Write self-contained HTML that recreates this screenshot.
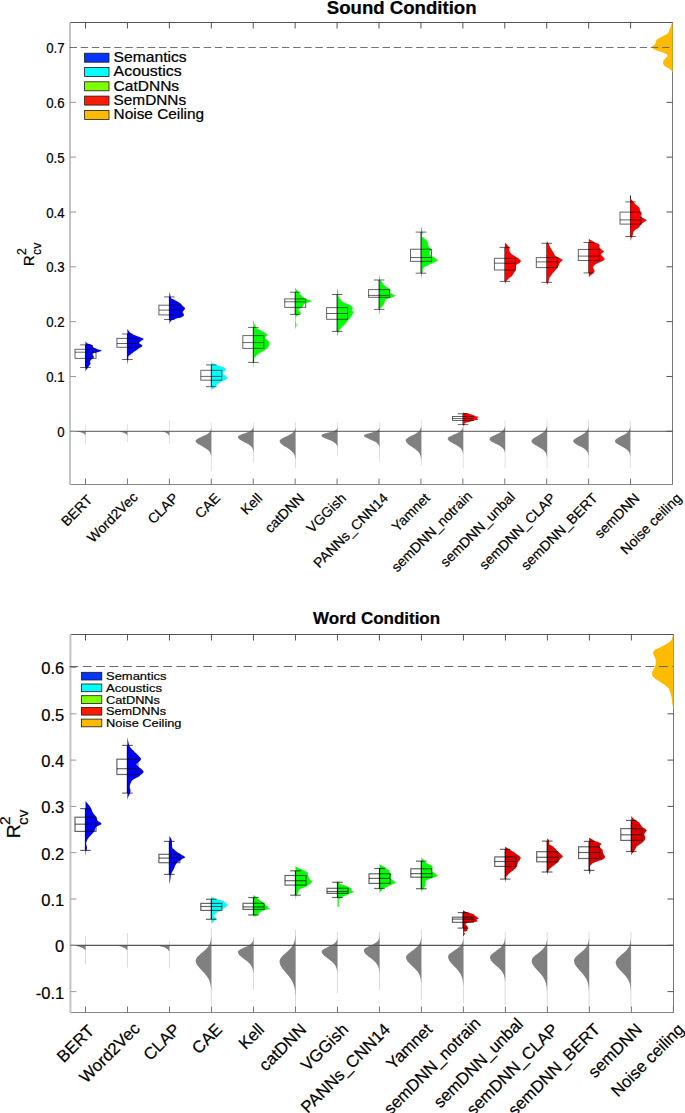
<!DOCTYPE html>
<html><head><meta charset="utf-8"><style>
html,body{margin:0;padding:0;background:#fff;}
svg{display:block;}
text{fill:#000;stroke:#000;stroke-width:0.2px;}
</style></head><body>
<svg width="685" height="1113" viewBox="0 0 685 1113" font-family='"Liberation Sans", sans-serif'>
<rect width="100%" height="100%" fill="#fff"/>
<text transform="translate(326.8 14.3) scale(1 1.12)" font-size="17" font-weight="bold" textLength="149.8" lengthAdjust="spacingAndGlyphs">Sound Condition</text>
<line x1="70" y1="22.5" x2="672.5" y2="22.5" stroke="#555" stroke-width="1"/>
<line x1="70" y1="484.5" x2="672.5" y2="484.5" stroke="#888" stroke-width="1"/>
<line x1="672.5" y1="22.5" x2="672.5" y2="484.5" stroke="#777" stroke-width="1"/>
<line x1="70" y1="22.5" x2="70" y2="484.5" stroke="#c4c4c4" stroke-width="2"/>
<line x1="85.5" y1="424.4" x2="85.5" y2="443.7" stroke="#d4d4d4" stroke-width="0.7"/>
<path d="M77.5,431.3 C77.87,431.4 79.03,431.7 79.74,431.9 C80.45,432.1 81.14,432.27 81.74,432.5 C82.34,432.73 82.89,433.03 83.34,433.3 C83.79,433.57 84.17,433.83 84.46,434.1 C84.75,434.37 84.96,434.7 85.1,434.9 C85.24,435.1 85.27,435.23 85.3,435.3 L85.5,435.3 L85.5,431.3 Z" fill="#808080"/>
<line x1="127.4" y1="424.2" x2="127.4" y2="442" stroke="#d4d4d4" stroke-width="0.7"/>
<path d="M118.4,431.3 C118.82,431.4 120.12,431.7 120.92,431.9 C121.72,432.1 122.5,432.27 123.17,432.5 C123.84,432.73 124.46,433.03 124.97,433.3 C125.48,433.57 125.9,433.83 126.23,434.1 C126.56,434.37 126.79,434.7 126.95,434.9 C127.11,435.1 127.16,435.23 127.2,435.3 L127.4,435.3 L127.4,431.3 Z" fill="#808080"/>
<line x1="169.4" y1="420.3" x2="169.4" y2="444.3" stroke="#d4d4d4" stroke-width="0.7"/>
<path d="M161.9,431.3 C162.25,431.41 163.34,431.75 164,431.98 C164.66,432.2 165.31,432.39 165.88,432.65 C166.44,432.91 166.95,433.25 167.38,433.55 C167.8,433.85 168.15,434.15 168.43,434.45 C168.7,434.75 168.9,435.12 169.03,435.35 C169.15,435.58 169.17,435.73 169.2,435.8 L169.4,435.8 L169.4,431.3 Z" fill="#808080"/>
<line x1="211.3" y1="422.3" x2="211.3" y2="471.3" stroke="#d4d4d4" stroke-width="0.7"/>
<path d="M211.13,428.3 C211.1,428.44 211.05,428.86 210.99,429.14 C210.93,429.42 210.86,429.7 210.77,429.98 C210.67,430.26 210.56,430.54 210.42,430.82 C210.28,431.1 210.11,431.38 209.9,431.66 C209.7,431.94 209.46,432.22 209.18,432.5 C208.89,432.78 208.57,433.06 208.19,433.34 C207.82,433.62 207.4,433.9 206.93,434.18 C206.47,434.46 205.95,434.74 205.41,435.02 C204.86,435.3 204.26,435.58 203.66,435.86 C203.05,436.14 202.4,436.42 201.78,436.7 C201.15,436.98 200.5,437.26 199.9,437.54 C199.3,437.82 198.7,438.1 198.19,438.38 C197.67,438.66 197.19,438.94 196.81,439.22 C196.43,439.5 196.11,439.78 195.91,440.06 C195.71,440.34 195.6,440.59 195.6,440.9 C195.6,441.21 195.71,441.59 195.91,441.94 C196.11,442.29 196.43,442.63 196.81,442.98 C197.19,443.33 197.67,443.67 198.19,444.02 C198.7,444.37 199.3,444.71 199.9,445.06 C200.5,445.41 201.15,445.75 201.78,446.1 C202.4,446.45 203.05,446.79 203.66,447.14 C204.26,447.49 204.86,447.83 205.41,448.18 C205.95,448.53 206.47,448.87 206.93,449.22 C207.4,449.57 207.82,449.91 208.19,450.26 C208.57,450.61 208.89,450.95 209.18,451.3 C209.46,451.65 209.7,451.99 209.9,452.34 C210.11,452.69 210.28,453.03 210.42,453.38 C210.56,453.73 210.67,454.07 210.77,454.42 C210.86,454.77 210.93,455.11 210.99,455.46 C211.05,455.81 211.1,456.33 211.13,456.5 L211.3,456.5 L211.3,428.3 Z" fill="#808080"/>
<line x1="253.5" y1="422.3" x2="253.5" y2="462" stroke="#d4d4d4" stroke-width="0.7"/>
<path d="M253.33,426.8 C253.3,426.91 253.25,427.25 253.19,427.48 C253.13,427.71 253.06,427.93 252.97,428.16 C252.87,428.39 252.77,428.61 252.62,428.84 C252.48,429.07 252.32,429.29 252.11,429.52 C251.91,429.75 251.67,429.97 251.39,430.2 C251.11,430.43 250.78,430.65 250.41,430.88 C250.04,431.11 249.62,431.33 249.16,431.56 C248.7,431.79 248.19,432.01 247.65,432.24 C247.1,432.47 246.51,432.69 245.91,432.92 C245.31,433.15 244.66,433.37 244.04,433.6 C243.42,433.83 242.77,434.05 242.17,434.28 C241.58,434.51 240.98,434.73 240.47,434.96 C239.96,435.19 239.48,435.41 239.1,435.64 C238.72,435.87 238.41,436.09 238.21,436.32 C238.01,436.55 237.9,436.72 237.9,437 C237.9,437.28 238.01,437.65 238.21,437.98 C238.41,438.31 238.72,438.63 239.1,438.96 C239.48,439.29 239.96,439.61 240.47,439.94 C240.98,440.27 241.58,440.59 242.17,440.92 C242.77,441.25 243.42,441.57 244.04,441.9 C244.66,442.23 245.31,442.55 245.91,442.88 C246.51,443.21 247.1,443.53 247.65,443.86 C248.19,444.19 248.7,444.51 249.16,444.84 C249.62,445.17 250.04,445.49 250.41,445.82 C250.78,446.15 251.11,446.47 251.39,446.8 C251.67,447.13 251.91,447.45 252.11,447.78 C252.32,448.11 252.48,448.43 252.62,448.76 C252.77,449.09 252.87,449.41 252.97,449.74 C253.06,450.07 253.13,450.39 253.19,450.72 C253.25,451.05 253.3,451.54 253.33,451.7 L253.5,451.7 L253.5,426.8 Z" fill="#808080"/>
<line x1="295.5" y1="422.3" x2="295.5" y2="468" stroke="#d4d4d4" stroke-width="0.7"/>
<path d="M295.32,427.6 C295.3,427.75 295.25,428.2 295.18,428.5 C295.12,428.8 295.05,429.1 294.96,429.4 C294.86,429.7 294.75,430 294.61,430.3 C294.46,430.6 294.3,430.9 294.09,431.2 C293.88,431.5 293.64,431.8 293.35,432.1 C293.06,432.4 292.73,432.7 292.35,433 C291.98,433.3 291.55,433.6 291.08,433.9 C290.61,434.2 290.09,434.5 289.53,434.8 C288.98,435.1 288.37,435.4 287.76,435.7 C287.15,436 286.49,436.3 285.86,436.6 C285.22,436.9 284.56,437.2 283.95,437.5 C283.35,437.8 282.74,438.1 282.22,438.4 C281.7,438.7 281.21,439 280.82,439.3 C280.44,439.6 280.12,439.9 279.91,440.2 C279.71,440.5 279.6,440.75 279.6,441.1 C279.6,441.45 279.71,441.9 279.91,442.3 C280.12,442.7 280.44,443.1 280.82,443.5 C281.21,443.9 281.7,444.3 282.22,444.7 C282.74,445.1 283.35,445.5 283.95,445.9 C284.56,446.3 285.22,446.7 285.86,447.1 C286.49,447.5 287.15,447.9 287.76,448.3 C288.37,448.7 288.98,449.1 289.53,449.5 C290.09,449.9 290.61,450.3 291.08,450.7 C291.55,451.1 291.98,451.5 292.35,451.9 C292.73,452.3 293.06,452.7 293.35,453.1 C293.64,453.5 293.88,453.9 294.09,454.3 C294.3,454.7 294.46,455.1 294.61,455.5 C294.75,455.9 294.86,456.3 294.96,456.7 C295.05,457.1 295.12,457.5 295.18,457.9 C295.25,458.3 295.3,458.9 295.32,459.1 L295.5,459.1 L295.5,427.6 Z" fill="#808080"/>
<line x1="337.5" y1="422.3" x2="337.5" y2="456" stroke="#d4d4d4" stroke-width="0.7"/>
<path d="M337.32,427.6 C337.3,427.69 337.24,427.95 337.18,428.12 C337.12,428.29 337.05,428.47 336.95,428.64 C336.85,428.81 336.74,428.99 336.6,429.16 C336.45,429.33 336.28,429.51 336.07,429.68 C335.86,429.85 335.61,430.03 335.32,430.2 C335.03,430.37 334.7,430.55 334.31,430.72 C333.93,430.89 333.5,431.07 333.02,431.24 C332.55,431.41 332.02,431.59 331.46,431.76 C330.9,431.93 330.28,432.11 329.66,432.28 C329.04,432.45 328.38,432.63 327.73,432.8 C327.09,432.97 326.42,433.15 325.81,433.32 C325.2,433.49 324.58,433.67 324.05,433.84 C323.52,434.01 323.03,434.19 322.64,434.36 C322.25,434.53 321.93,434.71 321.72,434.88 C321.51,435.05 321.4,435.18 321.4,435.4 C321.4,435.62 321.51,435.92 321.72,436.18 C321.93,436.44 322.25,436.7 322.64,436.96 C323.03,437.22 323.52,437.48 324.05,437.74 C324.58,438 325.2,438.26 325.81,438.52 C326.42,438.78 327.09,439.04 327.73,439.3 C328.38,439.56 329.04,439.82 329.66,440.08 C330.28,440.34 330.9,440.6 331.46,440.86 C332.02,441.12 332.55,441.38 333.02,441.64 C333.5,441.9 333.93,442.16 334.31,442.42 C334.7,442.68 335.03,442.94 335.32,443.2 C335.61,443.46 335.86,443.72 336.07,443.98 C336.28,444.24 336.45,444.5 336.6,444.76 C336.74,445.02 336.85,445.28 336.95,445.54 C337.05,445.8 337.12,446.06 337.18,446.32 C337.24,446.58 337.3,446.97 337.32,447.1 L337.5,447.1 L337.5,427.6 Z" fill="#808080"/>
<line x1="379.5" y1="422.3" x2="379.5" y2="462" stroke="#d4d4d4" stroke-width="0.7"/>
<path d="M379.33,427.9 C379.31,427.98 379.25,428.23 379.19,428.4 C379.13,428.57 379.07,428.73 378.97,428.9 C378.88,429.07 378.77,429.23 378.63,429.4 C378.49,429.57 378.33,429.73 378.12,429.9 C377.92,430.07 377.68,430.23 377.4,430.4 C377.12,430.57 376.8,430.73 376.43,430.9 C376.06,431.07 375.65,431.23 375.19,431.4 C374.73,431.57 374.22,431.73 373.68,431.9 C373.14,432.07 372.55,432.23 371.96,432.4 C371.36,432.57 370.72,432.73 370.1,432.9 C369.48,433.07 368.84,433.23 368.24,433.4 C367.65,433.57 367.06,433.73 366.55,433.9 C366.04,434.07 365.57,434.23 365.19,434.4 C364.82,434.57 364.51,434.73 364.31,434.9 C364.11,435.07 364,435.18 364,435.4 C364,435.62 364.11,435.93 364.31,436.2 C364.51,436.47 364.82,436.73 365.19,437 C365.57,437.27 366.04,437.53 366.55,437.8 C367.06,438.07 367.65,438.33 368.24,438.6 C368.84,438.87 369.48,439.13 370.1,439.4 C370.72,439.67 371.36,439.93 371.96,440.2 C372.55,440.47 373.14,440.73 373.68,441 C374.22,441.27 374.73,441.53 375.19,441.8 C375.65,442.07 376.06,442.33 376.43,442.6 C376.8,442.87 377.12,443.13 377.4,443.4 C377.68,443.67 377.92,443.93 378.12,444.2 C378.33,444.47 378.49,444.73 378.63,445 C378.77,445.27 378.88,445.53 378.97,445.8 C379.07,446.07 379.13,446.33 379.19,446.6 C379.25,446.87 379.31,447.27 379.33,447.4 L379.5,447.4 L379.5,427.9 Z" fill="#808080"/>
<line x1="421.3" y1="420.2" x2="421.3" y2="466" stroke="#d4d4d4" stroke-width="0.7"/>
<path d="M421.13,426.2 C421.1,426.36 421.05,426.83 420.99,427.14 C420.93,427.45 420.86,427.77 420.77,428.08 C420.67,428.39 420.57,428.71 420.42,429.02 C420.28,429.33 420.12,429.65 419.91,429.96 C419.71,430.27 419.47,430.59 419.19,430.9 C418.91,431.21 418.58,431.53 418.21,431.84 C417.84,432.15 417.42,432.47 416.96,432.78 C416.5,433.09 415.99,433.41 415.45,433.72 C414.9,434.03 414.31,434.35 413.71,434.66 C413.11,434.97 412.46,435.29 411.84,435.6 C411.22,435.91 410.57,436.23 409.97,436.54 C409.38,436.85 408.78,437.17 408.27,437.48 C407.76,437.79 407.28,438.11 406.9,438.42 C406.52,438.73 406.21,439.05 406.01,439.36 C405.81,439.67 405.7,439.93 405.7,440.3 C405.7,440.67 405.81,441.15 406.01,441.58 C406.21,442.01 406.52,442.43 406.9,442.86 C407.28,443.29 407.76,443.71 408.27,444.14 C408.78,444.57 409.38,444.99 409.97,445.42 C410.57,445.85 411.22,446.27 411.84,446.7 C412.46,447.13 413.11,447.55 413.71,447.98 C414.31,448.41 414.9,448.83 415.45,449.26 C415.99,449.69 416.5,450.11 416.96,450.54 C417.42,450.97 417.84,451.39 418.21,451.82 C418.58,452.25 418.91,452.67 419.19,453.1 C419.47,453.53 419.71,453.95 419.91,454.38 C420.12,454.81 420.28,455.23 420.42,455.66 C420.57,456.09 420.67,456.51 420.77,456.94 C420.86,457.37 420.93,457.79 420.99,458.22 C421.05,458.65 421.1,459.29 421.13,459.5 L421.3,459.5 L421.3,426.2 Z" fill="#808080"/>
<line x1="463.2" y1="426" x2="463.2" y2="468" stroke="#d4d4d4" stroke-width="0.7"/>
<path d="M463.03,426.6 C463.01,426.73 462.95,427.13 462.89,427.4 C462.83,427.67 462.77,427.93 462.67,428.2 C462.58,428.47 462.47,428.73 462.33,429 C462.19,429.27 462.03,429.53 461.82,429.8 C461.62,430.07 461.38,430.33 461.1,430.6 C460.82,430.87 460.5,431.13 460.13,431.4 C459.76,431.67 459.35,431.93 458.89,432.2 C458.43,432.47 457.92,432.73 457.38,433 C456.84,433.27 456.25,433.53 455.66,433.8 C455.06,434.07 454.42,434.33 453.8,434.6 C453.18,434.87 452.54,435.13 451.94,435.4 C451.35,435.67 450.76,435.93 450.25,436.2 C449.74,436.47 449.27,436.73 448.89,437 C448.52,437.27 448.21,437.53 448.01,437.8 C447.81,438.07 447.7,438.3 447.7,438.6 C447.7,438.9 447.81,439.28 448.01,439.62 C448.21,439.96 448.52,440.3 448.89,440.64 C449.27,440.98 449.74,441.32 450.25,441.66 C450.76,442 451.35,442.34 451.94,442.68 C452.54,443.02 453.18,443.36 453.8,443.7 C454.42,444.04 455.06,444.38 455.66,444.72 C456.25,445.06 456.84,445.4 457.38,445.74 C457.92,446.08 458.43,446.42 458.89,446.76 C459.35,447.1 459.76,447.44 460.13,447.78 C460.5,448.12 460.82,448.46 461.1,448.8 C461.38,449.14 461.62,449.48 461.82,449.82 C462.03,450.16 462.19,450.5 462.33,450.84 C462.47,451.18 462.58,451.52 462.67,451.86 C462.77,452.2 462.83,452.54 462.89,452.88 C462.95,453.22 463.01,453.73 463.03,453.9 L463.2,453.9 L463.2,426.6 Z" fill="#808080"/>
<line x1="505.1" y1="420.5" x2="505.1" y2="468" stroke="#d4d4d4" stroke-width="0.7"/>
<path d="M504.93,425.9 C504.9,426.05 504.85,426.49 504.79,426.78 C504.73,427.07 504.66,427.37 504.57,427.66 C504.47,427.95 504.37,428.25 504.22,428.54 C504.08,428.83 503.92,429.13 503.71,429.42 C503.51,429.71 503.27,430.01 502.99,430.3 C502.71,430.59 502.38,430.89 502.01,431.18 C501.64,431.47 501.22,431.77 500.76,432.06 C500.3,432.35 499.79,432.65 499.25,432.94 C498.7,433.23 498.11,433.53 497.51,433.82 C496.91,434.11 496.26,434.41 495.64,434.7 C495.02,434.99 494.37,435.29 493.77,435.58 C493.18,435.87 492.58,436.17 492.07,436.46 C491.56,436.75 491.08,437.05 490.7,437.34 C490.32,437.63 490.01,437.93 489.81,438.22 C489.61,438.51 489.5,438.8 489.5,439.1 C489.5,439.4 489.61,439.71 489.81,440.02 C490.01,440.33 490.32,440.63 490.7,440.94 C491.08,441.25 491.56,441.55 492.07,441.86 C492.58,442.17 493.18,442.47 493.77,442.78 C494.37,443.09 495.02,443.39 495.64,443.7 C496.26,444.01 496.91,444.31 497.51,444.62 C498.11,444.93 498.7,445.23 499.25,445.54 C499.79,445.85 500.3,446.15 500.76,446.46 C501.22,446.77 501.64,447.07 502.01,447.38 C502.38,447.69 502.71,447.99 502.99,448.3 C503.27,448.61 503.51,448.91 503.71,449.22 C503.92,449.53 504.08,449.83 504.22,450.14 C504.37,450.45 504.47,450.75 504.57,451.06 C504.66,451.37 504.73,451.67 504.79,451.98 C504.85,452.29 504.9,452.75 504.93,452.9 L505.1,452.9 L505.1,425.9 Z" fill="#808080"/>
<line x1="547.1" y1="420.5" x2="547.1" y2="468" stroke="#d4d4d4" stroke-width="0.7"/>
<path d="M546.93,425.5 C546.9,425.67 546.85,426.19 546.79,426.54 C546.73,426.89 546.66,427.23 546.57,427.58 C546.47,427.93 546.37,428.27 546.22,428.62 C546.08,428.97 545.92,429.31 545.71,429.66 C545.51,430.01 545.27,430.35 544.99,430.7 C544.71,431.05 544.38,431.39 544.01,431.74 C543.64,432.09 543.22,432.43 542.76,432.78 C542.3,433.13 541.79,433.47 541.25,433.82 C540.7,434.17 540.11,434.51 539.51,434.86 C538.91,435.21 538.26,435.55 537.64,435.9 C537.02,436.25 536.37,436.59 535.77,436.94 C535.18,437.29 534.58,437.63 534.07,437.98 C533.56,438.33 533.08,438.67 532.7,439.02 C532.32,439.37 532.01,439.71 531.81,440.06 C531.61,440.41 531.5,440.75 531.5,441.1 C531.5,441.45 531.61,441.81 531.81,442.16 C532.01,442.51 532.32,442.87 532.7,443.22 C533.08,443.57 533.56,443.93 534.07,444.28 C534.58,444.63 535.18,444.99 535.77,445.34 C536.37,445.69 537.02,446.05 537.64,446.4 C538.26,446.75 538.91,447.11 539.51,447.46 C540.11,447.81 540.7,448.17 541.25,448.52 C541.79,448.87 542.3,449.23 542.76,449.58 C543.22,449.93 543.64,450.29 544.01,450.64 C544.38,450.99 544.71,451.35 544.99,451.7 C545.27,452.05 545.51,452.41 545.71,452.76 C545.92,453.11 546.08,453.47 546.22,453.82 C546.37,454.17 546.47,454.53 546.57,454.88 C546.66,455.23 546.73,455.59 546.79,455.94 C546.85,456.29 546.9,456.82 546.93,457 L547.1,457 L547.1,425.5 Z" fill="#808080"/>
<line x1="588.6" y1="420.5" x2="588.6" y2="468" stroke="#d4d4d4" stroke-width="0.7"/>
<path d="M588.43,426.4 C588.41,426.56 588.35,427.05 588.29,427.38 C588.24,427.71 588.17,428.03 588.08,428.36 C587.98,428.69 587.88,429.01 587.74,429.34 C587.59,429.67 587.43,429.99 587.23,430.32 C587.03,430.65 586.8,430.97 586.52,431.3 C586.24,431.63 585.92,431.95 585.55,432.28 C585.19,432.61 584.77,432.93 584.32,433.26 C583.86,433.59 583.36,433.91 582.82,434.24 C582.28,434.57 581.7,434.89 581.1,435.22 C580.51,435.55 579.87,435.87 579.26,436.2 C578.64,436.53 578,436.85 577.42,437.18 C576.83,437.51 576.24,437.83 575.74,438.16 C575.23,438.49 574.76,438.81 574.38,439.14 C574.01,439.47 573.7,439.79 573.5,440.12 C573.31,440.45 573.2,440.78 573.2,441.1 C573.2,441.42 573.31,441.74 573.5,442.06 C573.7,442.38 574.01,442.7 574.38,443.02 C574.76,443.34 575.23,443.66 575.74,443.98 C576.24,444.3 576.83,444.62 577.42,444.94 C578,445.26 578.64,445.58 579.26,445.9 C579.87,446.22 580.51,446.54 581.1,446.86 C581.7,447.18 582.28,447.5 582.82,447.82 C583.36,448.14 583.86,448.46 584.32,448.78 C584.77,449.1 585.19,449.42 585.55,449.74 C585.92,450.06 586.24,450.38 586.52,450.7 C586.8,451.02 587.03,451.34 587.23,451.66 C587.43,451.98 587.59,452.3 587.74,452.62 C587.88,452.94 587.98,453.26 588.08,453.58 C588.17,453.9 588.24,454.22 588.29,454.54 C588.35,454.86 588.41,455.34 588.43,455.5 L588.6,455.5 L588.6,426.4 Z" fill="#808080"/>
<line x1="630.3" y1="420.5" x2="630.3" y2="468" stroke="#d4d4d4" stroke-width="0.7"/>
<path d="M630.13,426.7 C630.11,426.86 630.05,427.34 629.99,427.66 C629.94,427.98 629.87,428.3 629.78,428.62 C629.68,428.94 629.58,429.26 629.44,429.58 C629.29,429.9 629.13,430.22 628.93,430.54 C628.73,430.86 628.5,431.18 628.22,431.5 C627.94,431.82 627.62,432.14 627.25,432.46 C626.89,432.78 626.47,433.1 626.02,433.42 C625.56,433.74 625.06,434.06 624.52,434.38 C623.98,434.7 623.4,435.02 622.8,435.34 C622.21,435.66 621.57,435.98 620.96,436.3 C620.34,436.62 619.7,436.94 619.12,437.26 C618.53,437.58 617.94,437.9 617.44,438.22 C616.93,438.54 616.46,438.86 616.08,439.18 C615.71,439.5 615.4,439.82 615.2,440.14 C615.01,440.46 614.9,440.77 614.9,441.1 C614.9,441.43 615.01,441.77 615.2,442.1 C615.4,442.43 615.71,442.77 616.08,443.1 C616.46,443.43 616.93,443.77 617.44,444.1 C617.94,444.43 618.53,444.77 619.12,445.1 C619.7,445.43 620.34,445.77 620.96,446.1 C621.57,446.43 622.21,446.77 622.8,447.1 C623.4,447.43 623.98,447.77 624.52,448.1 C625.06,448.43 625.56,448.77 626.02,449.1 C626.47,449.43 626.89,449.77 627.25,450.1 C627.62,450.43 627.94,450.77 628.22,451.1 C628.5,451.43 628.73,451.77 628.93,452.1 C629.13,452.43 629.29,452.77 629.44,453.1 C629.58,453.43 629.68,453.77 629.78,454.1 C629.87,454.43 629.94,454.77 629.99,455.1 C630.05,455.43 630.11,455.93 630.13,456.1 L630.3,456.1 L630.3,426.7 Z" fill="#808080"/>
<line x1="70" y1="431.3" x2="672.5" y2="431.3" stroke="#555" stroke-width="1.0"/>
<path d="M85.5,341.1 C85.73,341.45 86.17,342.67 86.9,343.2 C87.63,343.73 88.92,343.92 89.9,344.3 C90.88,344.68 92.27,345 92.8,345.5 C93.33,346 92.52,346.77 93.1,347.3 C93.68,347.83 94.9,348.17 96.3,348.7 C97.7,349.23 101.12,349.97 101.5,350.5 C101.88,351.03 99.77,351.52 98.6,351.9 C97.43,352.28 95.52,352.4 94.5,352.8 C93.48,353.2 92.6,353.62 92.5,354.3 C92.4,354.98 93.85,356.22 93.9,356.9 C93.95,357.58 93.33,357.87 92.8,358.4 C92.27,358.93 91.15,359.43 90.7,360.1 C90.25,360.77 90.1,361.82 90.1,362.4 C90.1,362.98 90.83,363.1 90.7,363.6 C90.57,364.1 89.83,364.62 89.3,365.4 C88.77,366.18 88.03,367.53 87.5,368.3 C86.97,369.07 86.43,369.42 86.1,370 C85.77,370.58 85.6,371.5 85.5,371.8 Z" fill="#0000ff"/>
<line x1="85.5" y1="344.9" x2="85.5" y2="367.5" stroke="#000" stroke-opacity="0.85" stroke-width="1.0"/>
<g fill="none" stroke="#000" stroke-opacity="0.6" stroke-width="1.0"><rect x="75" y="349.3" width="21" height="9.1"/><line x1="75" y1="352.2" x2="96" y2="352.2"/><line x1="80.2" y1="344.9" x2="90.8" y2="344.9"/><line x1="80.2" y1="367.5" x2="90.8" y2="367.5"/></g>
<path d="M127.4,328.8 C127.75,329.33 128.73,331.13 129.5,332 C130.27,332.87 131,333.42 132,334 C133,334.58 134.25,335 135.5,335.5 C136.75,336 138.15,336.42 139.5,337 C140.85,337.58 143.35,338.33 143.6,339 C143.85,339.67 141.73,340.33 141,341 C140.27,341.67 138.97,342.22 139.2,343 C139.43,343.78 142.35,344.87 142.4,345.7 C142.45,346.53 140.57,347.22 139.5,348 C138.43,348.78 137.08,349.65 136,350.4 C134.92,351.15 134,351.73 133,352.5 C132,353.27 130.75,354.38 130,355 C129.25,355.62 128.8,355.37 128.5,356.2 C128.2,357.03 128.38,358.53 128.2,360 C128.02,361.47 127.53,364.17 127.4,365 Z" fill="#0000ff"/>
<line x1="127.4" y1="334" x2="127.4" y2="359.5" stroke="#000" stroke-opacity="0.85" stroke-width="1.0"/>
<g fill="none" stroke="#000" stroke-opacity="0.6" stroke-width="1.0"><rect x="116.9" y="338.4" width="21" height="8.9"/><line x1="116.9" y1="343.5" x2="137.9" y2="343.5"/><line x1="122.1" y1="334" x2="132.7" y2="334"/><line x1="122.1" y1="359.5" x2="132.7" y2="359.5"/></g>
<path d="M169.4,292.1 C169.55,292.58 170.02,294.03 170.3,295 C170.58,295.97 170.73,297.22 171.1,297.9 C171.47,298.58 171.83,298.7 172.5,299.1 C173.17,299.5 174.22,299.87 175.1,300.3 C175.98,300.73 176.97,301.22 177.8,301.7 C178.63,302.18 179.42,302.67 180.1,303.2 C180.78,303.73 181.32,304.32 181.9,304.9 C182.48,305.48 183.07,306.12 183.6,306.7 C184.13,307.28 185.05,307.82 185.1,308.4 C185.15,308.98 184.3,309.62 183.9,310.2 C183.5,310.78 182.75,311.32 182.7,311.9 C182.65,312.48 183.4,313.12 183.6,313.7 C183.8,314.28 184.18,314.87 183.9,315.4 C183.62,315.93 182.82,316.45 181.9,316.9 C180.98,317.35 179.67,317.72 178.4,318.1 C177.13,318.48 175.47,318.82 174.3,319.2 C173.13,319.58 172.13,319.85 171.4,320.4 C170.67,320.95 170.23,321.77 169.9,322.5 C169.57,323.23 169.48,324.42 169.4,324.8 Z" fill="#0000ff"/>
<line x1="169.4" y1="296.9" x2="169.4" y2="319.5" stroke="#000" stroke-opacity="0.85" stroke-width="1.0"/>
<g fill="none" stroke="#000" stroke-opacity="0.6" stroke-width="1.0"><rect x="158.9" y="305.2" width="21" height="9.7"/><line x1="158.9" y1="310.1" x2="179.9" y2="310.1"/><line x1="164.1" y1="296.9" x2="174.7" y2="296.9"/><line x1="164.1" y1="319.5" x2="174.7" y2="319.5"/></g>
<path d="M211.3,360.1 C211.4,360.48 211.47,361.72 211.9,362.4 C212.33,363.08 212.88,363.67 213.9,364.2 C214.92,364.73 216.53,365.12 218,365.6 C219.47,366.08 221.43,366.6 222.7,367.1 C223.97,367.6 225.07,368.12 225.6,368.6 C226.13,369.08 226.18,369.52 225.9,370 C225.62,370.48 224.48,370.97 223.9,371.5 C223.32,372.03 222.32,372.62 222.4,373.2 C222.48,373.78 223.67,374.42 224.4,375 C225.13,375.58 226.35,376.22 226.8,376.7 C227.25,377.18 227.3,377.45 227.1,377.9 C226.9,378.35 226.43,378.87 225.6,379.4 C224.77,379.93 223.17,380.52 222.1,381.1 C221.03,381.68 220.03,382.32 219.2,382.9 C218.37,383.48 217.68,384.02 217.1,384.6 C216.52,385.18 216.23,385.87 215.7,386.4 C215.17,386.93 214.48,387.32 213.9,387.8 C213.32,388.28 212.63,388.67 212.2,389.3 C211.77,389.93 211.45,391.22 211.3,391.6 Z" fill="#00ffff"/>
<line x1="211.3" y1="364.9" x2="211.3" y2="386.7" stroke="#000" stroke-opacity="0.85" stroke-width="1.0"/>
<g fill="none" stroke="#000" stroke-opacity="0.6" stroke-width="1.0"><rect x="200.8" y="370.3" width="21" height="9.9"/><line x1="200.8" y1="376.4" x2="221.8" y2="376.4"/><line x1="206" y1="364.9" x2="216.6" y2="364.9"/><line x1="206" y1="386.7" x2="216.6" y2="386.7"/></g>
<path d="M253.3,320.1 C253.48,320.68 254.08,322.53 254.4,323.6 C254.72,324.67 254.72,325.63 255.2,326.5 C255.68,327.37 256.37,328.12 257.3,328.8 C258.23,329.48 259.63,330 260.8,330.6 C261.97,331.2 263.33,331.82 264.3,332.4 C265.27,332.98 266.17,333.57 266.6,334.1 C267.03,334.63 267.18,335.02 266.9,335.6 C266.62,336.18 264.95,336.97 264.9,337.6 C264.85,338.23 265.93,338.72 266.6,339.4 C267.27,340.08 268.47,340.93 268.9,341.7 C269.33,342.47 269.28,343.22 269.2,344 C269.12,344.78 268.83,345.62 268.4,346.4 C267.97,347.18 267.48,347.93 266.6,348.7 C265.72,349.47 264.37,350.22 263.1,351 C261.83,351.78 260.17,352.62 259,353.4 C257.83,354.18 256.87,354.93 256.1,355.7 C255.33,356.47 254.73,357.03 254.4,358 C254.07,358.97 254.2,360.33 254.1,361.5 C254,362.67 253.93,363.73 253.8,365 C253.67,366.27 253.38,368.42 253.3,369.1 Z" fill="#00ff00"/>
<line x1="253.3" y1="327.4" x2="253.3" y2="362.4" stroke="#000" stroke-opacity="0.85" stroke-width="1.0"/>
<g fill="none" stroke="#000" stroke-opacity="0.6" stroke-width="1.0"><rect x="242.8" y="335.6" width="21" height="12.8"/><line x1="242.8" y1="342.6" x2="263.8" y2="342.6"/><line x1="248" y1="327.4" x2="258.6" y2="327.4"/><line x1="248" y1="362.4" x2="258.6" y2="362.4"/></g>
<path d="M295.2,287.5 C295.43,287.88 296.02,289.02 296.6,289.8 C297.18,290.58 298.07,291.42 298.7,292.2 C299.33,292.98 299.82,293.77 300.4,294.5 C300.98,295.23 301.52,295.97 302.2,296.6 C302.88,297.23 303.53,297.77 304.5,298.3 C305.47,298.83 306.83,299.32 308,299.8 C309.17,300.28 311.68,300.72 311.5,301.2 C311.32,301.68 308.12,302.25 306.9,302.7 C305.68,303.15 304.78,303.47 304.2,303.9 C303.62,304.33 303.73,304.77 303.4,305.3 C303.07,305.83 302.78,306.57 302.2,307.1 C301.62,307.63 300.58,308.02 299.9,308.5 C299.22,308.98 298.1,309.52 298.1,310 C298.1,310.48 299.47,310.87 299.9,311.4 C300.33,311.93 301,312.62 300.7,313.2 C300.4,313.78 298.87,314.32 298.1,314.9 C297.33,315.48 296.52,316.02 296.1,316.7 C295.68,317.38 295.65,318.12 295.6,319 C295.55,319.88 295.63,321.02 295.8,322 C295.97,322.98 296.6,324.03 296.6,324.9 C296.6,325.77 296.03,326.43 295.8,327.2 C295.57,327.97 295.3,329.12 295.2,329.5 Z" fill="#00ff00"/>
<line x1="295.2" y1="292.2" x2="295.2" y2="314.4" stroke="#000" stroke-opacity="0.85" stroke-width="1.0"/>
<g fill="none" stroke="#000" stroke-opacity="0.6" stroke-width="1.0"><rect x="284.7" y="298.9" width="21" height="8.5"/><line x1="284.7" y1="301.8" x2="305.7" y2="301.8"/><line x1="289.9" y1="292.2" x2="300.5" y2="292.2"/><line x1="289.9" y1="314.4" x2="300.5" y2="314.4"/></g>
<path d="M337.1,288.1 C337.27,288.68 337.88,290.33 338.1,291.6 C338.32,292.87 338.17,294.63 338.4,295.7 C338.63,296.77 339.02,297.22 339.5,298 C339.98,298.78 340.72,299.72 341.3,300.4 C341.88,301.08 342.32,301.62 343,302.1 C343.68,302.58 344.52,302.92 345.4,303.3 C346.28,303.68 347.43,304.02 348.3,304.4 C349.17,304.78 349.92,305.15 350.6,305.6 C351.28,306.05 352.05,306.62 352.4,307.1 C352.75,307.58 352.75,307.97 352.7,308.5 C352.65,309.03 352.02,309.62 352.1,310.3 C352.18,310.98 353.2,311.83 353.2,312.6 C353.2,313.37 352.63,314.02 352.1,314.9 C351.57,315.78 350.73,316.92 350,317.9 C349.27,318.88 348.47,319.83 347.7,320.8 C346.93,321.77 346.28,322.73 345.4,323.7 C344.52,324.67 343.33,325.63 342.4,326.6 C341.47,327.57 340.47,328.52 339.8,329.5 C339.13,330.48 338.85,331.32 338.4,332.5 C337.95,333.68 337.32,335.92 337.1,336.6 Z" fill="#00ff00"/>
<line x1="337.1" y1="294.5" x2="337.1" y2="331.4" stroke="#000" stroke-opacity="0.85" stroke-width="1.0"/>
<g fill="none" stroke="#000" stroke-opacity="0.6" stroke-width="1.0"><rect x="326.6" y="307.6" width="21" height="11.7"/><line x1="326.6" y1="313.5" x2="347.6" y2="313.5"/><line x1="331.8" y1="294.5" x2="342.4" y2="294.5"/><line x1="331.8" y1="331.4" x2="342.4" y2="331.4"/></g>
<path d="M379.1,274.1 C379.22,274.68 379.55,276.53 379.8,277.6 C380.05,278.67 380.17,279.63 380.6,280.5 C381.03,281.37 381.82,282.02 382.4,282.8 C382.98,283.58 383.37,284.47 384.1,285.2 C384.83,285.93 385.92,286.62 386.8,287.2 C387.68,287.78 388.77,288.22 389.4,288.7 C390.03,289.18 390.5,289.57 390.6,290.1 C390.7,290.63 389.95,291.35 390,291.9 C390.05,292.45 390.07,292.82 390.9,293.4 C391.73,293.98 394.82,294.77 395,295.4 C395.18,296.03 393.18,296.67 392,297.2 C390.82,297.73 388.97,298.17 387.9,298.6 C386.83,299.03 386.13,299.22 385.6,299.8 C385.07,300.38 385.03,301.32 384.7,302.1 C384.37,302.88 384.08,303.72 383.6,304.5 C383.12,305.28 382.38,306.03 381.8,306.8 C381.22,307.57 380.43,308.23 380.1,309.1 C379.77,309.97 379.97,311.02 379.8,312 C379.63,312.98 379.22,314.5 379.1,315 Z" fill="#00ff00"/>
<line x1="379.1" y1="280" x2="379.1" y2="309.4" stroke="#000" stroke-opacity="0.85" stroke-width="1.0"/>
<g fill="none" stroke="#000" stroke-opacity="0.6" stroke-width="1.0"><rect x="368.6" y="289.6" width="21" height="7.7"/><line x1="368.6" y1="295.4" x2="389.6" y2="295.4"/><line x1="373.8" y1="280" x2="384.4" y2="280"/><line x1="373.8" y1="309.4" x2="384.4" y2="309.4"/></g>
<path d="M421,226 C421.27,227.08 422.47,230.83 422.6,232.5 C422.73,234.17 421.58,235.05 421.8,236 C422.02,236.95 423.12,237.47 423.9,238.2 C424.68,238.93 425.85,239.6 426.5,240.4 C427.15,241.2 427.43,241.98 427.8,243 C428.17,244.02 428.12,245.33 428.7,246.5 C429.28,247.67 431.22,248.9 431.3,250 C431.38,251.1 429.2,252.15 429.2,253.1 C429.2,254.05 429.92,254.53 431.3,255.7 C432.68,256.87 437.13,258.93 437.5,260.1 C437.87,261.27 435.18,261.82 433.5,262.7 C431.82,263.58 429.07,264.58 427.4,265.4 C425.73,266.22 424.3,266.52 423.5,267.6 C422.7,268.68 422.92,270.5 422.6,271.9 C422.28,273.3 421.87,274.6 421.6,276 C421.33,277.4 421.1,279.58 421,280.3 Z" fill="#00ff00"/>
<line x1="421" y1="232.1" x2="421" y2="273.2" stroke="#000" stroke-opacity="0.85" stroke-width="1.0"/>
<g fill="none" stroke="#000" stroke-opacity="0.6" stroke-width="1.0"><rect x="410.5" y="249.2" width="21" height="12.2"/><line x1="410.5" y1="257.5" x2="431.5" y2="257.5"/><line x1="415.7" y1="232.1" x2="426.3" y2="232.1"/><line x1="415.7" y1="273.2" x2="426.3" y2="273.2"/></g>
<line x1="463" y1="413.8" x2="463" y2="424.6" stroke="#000" stroke-opacity="0.85" stroke-width="1.0"/>
<path d="M463,412.5 C463.78,412.68 466.18,413.23 467.7,413.6 C469.22,413.97 470.75,414.27 472.1,414.7 C473.45,415.13 474.7,415.83 475.8,416.2 C476.9,416.57 478.52,416.57 478.7,416.9 C478.88,417.23 476.97,417.77 476.9,418.2 C476.83,418.63 478.85,419.12 478.3,419.5 C477.75,419.88 475.12,420.08 473.6,420.5 C472.08,420.92 470.67,421.57 469.2,422 C467.73,422.43 465.53,422.67 464.8,423.1 C464.07,423.53 465.1,424.12 464.8,424.6 C464.5,425.08 463.3,425.77 463,426 Z" fill="#ff0000"/>
<g fill="none" stroke="#000" stroke-opacity="0.6" stroke-width="1.0"><rect x="452.5" y="416.5" width="21" height="4"/><line x1="452.5" y1="418.6" x2="473.5" y2="418.6"/><line x1="457.7" y1="413.8" x2="468.3" y2="413.8"/><line x1="457.7" y1="424.6" x2="468.3" y2="424.6"/></g>
<line x1="504.9" y1="247.4" x2="504.9" y2="281.4" stroke="#000" stroke-opacity="0.85" stroke-width="1.0"/>
<path d="M504.9,242.4 C505.18,242.7 506.07,243.62 506.6,244.2 C507.13,244.78 507.6,245.32 508.1,245.9 C508.6,246.48 509.4,247.12 509.6,247.7 C509.8,248.28 509.3,248.77 509.3,249.4 C509.3,250.03 509.37,250.87 509.6,251.5 C509.83,252.13 510.12,252.62 510.7,253.2 C511.28,253.78 512.27,254.42 513.1,255 C513.93,255.58 514.73,256.07 515.7,256.7 C516.67,257.33 518.05,258.07 518.9,258.8 C519.75,259.53 520.7,260.42 520.8,261.1 C520.9,261.78 520.2,262.32 519.5,262.9 C518.8,263.48 517.23,263.93 516.6,264.6 C515.97,265.27 515.87,266.02 515.7,266.9 C515.53,267.78 515.9,268.92 515.6,269.9 C515.3,270.88 514.47,271.83 513.9,272.8 C513.33,273.77 512.87,274.92 512.2,275.7 C511.53,276.48 510.68,276.82 509.9,277.5 C509.12,278.18 508.18,279.03 507.5,279.8 C506.82,280.57 506.23,281.23 505.8,282.1 C505.37,282.97 505.05,284.52 504.9,285 Z" fill="#ff0000"/>
<g fill="none" stroke="#000" stroke-opacity="0.6" stroke-width="1.0"><rect x="494.4" y="258.3" width="21" height="11.7"/><line x1="494.4" y1="263.2" x2="515.4" y2="263.2"/><line x1="499.6" y1="247.4" x2="510.2" y2="247.4"/><line x1="499.6" y1="281.4" x2="510.2" y2="281.4"/></g>
<line x1="546.8" y1="243.3" x2="546.8" y2="282.4" stroke="#000" stroke-opacity="0.85" stroke-width="1.0"/>
<path d="M546.8,241 C547.07,241.38 547.95,242.52 548.4,243.3 C548.85,244.08 549.12,244.92 549.5,245.7 C549.88,246.48 550.27,247.22 550.7,248 C551.13,248.78 551.62,249.62 552.1,250.4 C552.58,251.18 553.2,251.98 553.6,252.7 C554,253.42 554.02,254.07 554.5,254.7 C554.98,255.33 555.58,255.92 556.5,256.5 C557.42,257.08 558.97,257.62 560,258.2 C561.03,258.78 562.55,259.42 562.7,260 C562.85,260.58 561.45,261.12 560.9,261.7 C560.35,262.28 559.78,262.82 559.4,263.5 C559.02,264.18 558.98,265.02 558.6,265.8 C558.22,266.58 557.68,267.42 557.1,268.2 C556.52,268.98 555.78,269.73 555.1,270.5 C554.42,271.27 553.63,272.02 553,272.8 C552.37,273.58 551.88,274.42 551.3,275.2 C550.72,275.98 549.9,276.68 549.5,277.5 C549.1,278.32 549.08,279.27 548.9,280.1 C548.72,280.93 548.72,281.72 548.4,282.5 C548.08,283.28 547.27,284.12 547,284.8 C546.73,285.48 546.83,286.3 546.8,286.6 Z" fill="#ff0000"/>
<g fill="none" stroke="#000" stroke-opacity="0.6" stroke-width="1.0"><rect x="536.3" y="257.6" width="21" height="10"/><line x1="536.3" y1="261.9" x2="557.3" y2="261.9"/><line x1="541.5" y1="243.3" x2="552.1" y2="243.3"/><line x1="541.5" y1="282.4" x2="552.1" y2="282.4"/></g>
<line x1="588.8" y1="242.5" x2="588.8" y2="272.9" stroke="#000" stroke-opacity="0.85" stroke-width="1.0"/>
<path d="M588.8,238.4 C588.97,238.6 589.15,239.12 589.8,239.6 C590.45,240.08 591.73,240.77 592.7,241.3 C593.67,241.83 594.63,242.35 595.6,242.8 C596.57,243.25 597.82,243.57 598.5,244 C599.18,244.43 599.55,244.87 599.7,245.4 C599.85,245.93 599.2,246.62 599.4,247.2 C599.6,247.78 600.27,248.32 600.9,248.9 C601.53,249.48 602.72,250.17 603.2,250.7 C603.68,251.23 604.18,251.52 603.8,252.1 C603.42,252.68 601.1,253.47 600.9,254.2 C600.7,254.93 601.97,255.67 602.6,256.5 C603.23,257.33 604.8,258.42 604.7,259.2 C604.6,259.98 603.03,260.62 602,261.2 C600.97,261.78 599.62,262.17 598.5,262.7 C597.38,263.23 596.17,263.77 595.3,264.4 C594.43,265.03 593.58,265.77 593.3,266.5 C593.02,267.23 593.37,268.03 593.6,268.8 C593.83,269.57 594.75,270.42 594.7,271.1 C594.65,271.78 593.93,272.27 593.3,272.9 C592.67,273.53 591.6,274.22 590.9,274.9 C590.2,275.58 589.45,276.37 589.1,277 C588.75,277.63 588.85,278.42 588.8,278.7 Z" fill="#ff0000"/>
<g fill="none" stroke="#000" stroke-opacity="0.6" stroke-width="1.0"><rect x="578.3" y="249.4" width="21" height="11.1"/><line x1="578.3" y1="256.1" x2="599.3" y2="256.1"/><line x1="583.5" y1="242.5" x2="594.1" y2="242.5"/><line x1="583.5" y1="272.9" x2="594.1" y2="272.9"/></g>
<line x1="630.5" y1="195.5" x2="630.5" y2="236.5" stroke="#000" stroke-opacity="0.85" stroke-width="1.0"/>
<path d="M630.5,198.4 C630.77,198.7 631.55,199.57 632.1,200.2 C632.65,200.83 633.27,201.52 633.8,202.2 C634.33,202.88 634.67,203.67 635.3,204.3 C635.93,204.93 636.92,205.42 637.6,206 C638.28,206.58 639.02,207.22 639.4,207.8 C639.78,208.38 639.72,208.82 639.9,209.5 C640.08,210.18 640.25,211.12 640.5,211.9 C640.75,212.68 641.4,213.53 641.4,214.2 C641.4,214.87 640.25,215.27 640.5,215.9 C640.75,216.53 641.87,217.27 642.9,218 C643.93,218.73 646.62,219.57 646.7,220.3 C646.78,221.03 644.33,221.72 643.4,222.4 C642.47,223.08 641.73,223.72 641.1,224.4 C640.47,225.08 640.18,225.82 639.6,226.5 C639.02,227.18 638.42,227.88 637.6,228.5 C636.78,229.12 635.43,229.57 634.7,230.2 C633.97,230.83 633.5,231.57 633.2,232.3 C632.9,233.03 633.08,233.82 632.9,234.6 C632.72,235.38 632.38,236.32 632.1,237 C631.82,237.68 631.47,238.02 631.2,238.7 C630.93,239.38 630.62,240.7 630.5,241.1 Z" fill="#ff0000"/>
<g fill="none" stroke="#000" stroke-opacity="0.6" stroke-width="1.0"><rect x="620" y="212.1" width="21" height="12"/><line x1="620" y1="219.9" x2="641" y2="219.9"/><line x1="625.2" y1="201.9" x2="635.8" y2="201.9"/><line x1="625.2" y1="236.5" x2="635.8" y2="236.5"/></g>
<line x1="85.5" y1="22.5" x2="85.5" y2="28.5" stroke="#555" stroke-width="1"/>
<line x1="85.5" y1="484.5" x2="85.5" y2="478.5" stroke="#777" stroke-width="1"/>
<line x1="127.43" y1="22.5" x2="127.43" y2="28.5" stroke="#555" stroke-width="1"/>
<line x1="127.43" y1="484.5" x2="127.43" y2="478.5" stroke="#777" stroke-width="1"/>
<line x1="169.36" y1="22.5" x2="169.36" y2="28.5" stroke="#555" stroke-width="1"/>
<line x1="169.36" y1="484.5" x2="169.36" y2="478.5" stroke="#777" stroke-width="1"/>
<line x1="211.29" y1="22.5" x2="211.29" y2="28.5" stroke="#555" stroke-width="1"/>
<line x1="211.29" y1="484.5" x2="211.29" y2="478.5" stroke="#777" stroke-width="1"/>
<line x1="253.22" y1="22.5" x2="253.22" y2="28.5" stroke="#555" stroke-width="1"/>
<line x1="253.22" y1="484.5" x2="253.22" y2="478.5" stroke="#777" stroke-width="1"/>
<line x1="295.15" y1="22.5" x2="295.15" y2="28.5" stroke="#555" stroke-width="1"/>
<line x1="295.15" y1="484.5" x2="295.15" y2="478.5" stroke="#777" stroke-width="1"/>
<line x1="337.08" y1="22.5" x2="337.08" y2="28.5" stroke="#555" stroke-width="1"/>
<line x1="337.08" y1="484.5" x2="337.08" y2="478.5" stroke="#777" stroke-width="1"/>
<line x1="379.01" y1="22.5" x2="379.01" y2="28.5" stroke="#555" stroke-width="1"/>
<line x1="379.01" y1="484.5" x2="379.01" y2="478.5" stroke="#777" stroke-width="1"/>
<line x1="420.94" y1="22.5" x2="420.94" y2="28.5" stroke="#555" stroke-width="1"/>
<line x1="420.94" y1="484.5" x2="420.94" y2="478.5" stroke="#777" stroke-width="1"/>
<line x1="462.87" y1="22.5" x2="462.87" y2="28.5" stroke="#555" stroke-width="1"/>
<line x1="462.87" y1="484.5" x2="462.87" y2="478.5" stroke="#777" stroke-width="1"/>
<line x1="504.8" y1="22.5" x2="504.8" y2="28.5" stroke="#555" stroke-width="1"/>
<line x1="504.8" y1="484.5" x2="504.8" y2="478.5" stroke="#777" stroke-width="1"/>
<line x1="546.73" y1="22.5" x2="546.73" y2="28.5" stroke="#555" stroke-width="1"/>
<line x1="546.73" y1="484.5" x2="546.73" y2="478.5" stroke="#777" stroke-width="1"/>
<line x1="588.66" y1="22.5" x2="588.66" y2="28.5" stroke="#555" stroke-width="1"/>
<line x1="588.66" y1="484.5" x2="588.66" y2="478.5" stroke="#777" stroke-width="1"/>
<line x1="630.59" y1="22.5" x2="630.59" y2="28.5" stroke="#555" stroke-width="1"/>
<line x1="630.59" y1="484.5" x2="630.59" y2="478.5" stroke="#777" stroke-width="1"/>
<line x1="672.52" y1="22.5" x2="672.52" y2="28.5" stroke="#555" stroke-width="1"/>
<line x1="672.52" y1="484.5" x2="672.52" y2="478.5" stroke="#777" stroke-width="1"/>
<line x1="70" y1="431.3" x2="76" y2="431.3" stroke="#999" stroke-width="1"/>
<line x1="672.5" y1="431.3" x2="666.5" y2="431.3" stroke="#555" stroke-width="1"/>
<text transform="translate(64.5 436.9) scale(0.97 1.12)" font-size="13.6" text-anchor="end">0</text>
<line x1="70" y1="376.47" x2="76" y2="376.47" stroke="#999" stroke-width="1"/>
<line x1="672.5" y1="376.47" x2="666.5" y2="376.47" stroke="#555" stroke-width="1"/>
<text transform="translate(64.5 382.07) scale(0.97 1.12)" font-size="13.6" text-anchor="end">0.1</text>
<line x1="70" y1="321.64" x2="76" y2="321.64" stroke="#999" stroke-width="1"/>
<line x1="672.5" y1="321.64" x2="666.5" y2="321.64" stroke="#555" stroke-width="1"/>
<text transform="translate(64.5 327.24) scale(0.97 1.12)" font-size="13.6" text-anchor="end">0.2</text>
<line x1="70" y1="266.81" x2="76" y2="266.81" stroke="#999" stroke-width="1"/>
<line x1="672.5" y1="266.81" x2="666.5" y2="266.81" stroke="#555" stroke-width="1"/>
<text transform="translate(64.5 272.41) scale(0.97 1.12)" font-size="13.6" text-anchor="end">0.3</text>
<line x1="70" y1="211.98" x2="76" y2="211.98" stroke="#999" stroke-width="1"/>
<line x1="672.5" y1="211.98" x2="666.5" y2="211.98" stroke="#555" stroke-width="1"/>
<text transform="translate(64.5 217.58) scale(0.97 1.12)" font-size="13.6" text-anchor="end">0.4</text>
<line x1="70" y1="157.15" x2="76" y2="157.15" stroke="#999" stroke-width="1"/>
<line x1="672.5" y1="157.15" x2="666.5" y2="157.15" stroke="#555" stroke-width="1"/>
<text transform="translate(64.5 162.75) scale(0.97 1.12)" font-size="13.6" text-anchor="end">0.5</text>
<line x1="70" y1="102.32" x2="76" y2="102.32" stroke="#999" stroke-width="1"/>
<line x1="672.5" y1="102.32" x2="666.5" y2="102.32" stroke="#555" stroke-width="1"/>
<text transform="translate(64.5 107.92) scale(0.97 1.12)" font-size="13.6" text-anchor="end">0.6</text>
<line x1="70" y1="47.49" x2="76" y2="47.49" stroke="#999" stroke-width="1"/>
<line x1="672.5" y1="47.49" x2="666.5" y2="47.49" stroke="#555" stroke-width="1"/>
<text transform="translate(64.5 53.09) scale(0.97 1.12)" font-size="13.6" text-anchor="end">0.7</text>
<path d="M672.6,22.5 C672.43,22.72 671.9,23.1 671.6,23.8 C671.3,24.5 671.18,25.73 670.8,26.7 C670.42,27.67 669.67,28.63 669.3,29.6 C668.93,30.57 669.2,31.65 668.6,32.5 C668,33.35 666.92,33.97 665.7,34.7 C664.48,35.43 662.65,36.17 661.3,36.9 C659.95,37.63 658.52,38.37 657.6,39.1 C656.68,39.83 656.22,40.45 655.8,41.3 C655.38,42.15 655.7,43.35 655.1,44.2 C654.5,45.05 652.38,45.55 652.2,46.4 C652.02,47.25 652.73,48.45 654,49.3 C655.27,50.15 657.85,50.77 659.8,51.5 C661.75,52.23 664.42,52.97 665.7,53.7 C666.98,54.43 667.63,55.05 667.5,55.9 C667.37,56.75 665.63,57.72 664.9,58.8 C664.17,59.88 663.22,61.3 663.1,62.4 C662.98,63.5 663.28,64.42 664.2,65.4 C665.12,66.38 667.32,67.33 668.6,68.3 C669.88,69.27 671.23,70.35 671.9,71.2 C672.57,72.05 672.48,73.03 672.6,73.4 Z" fill="#ffbb00"/>
<line x1="69.5" y1="47.490000000000066" x2="672.5" y2="47.490000000000066" stroke="#6a6a6a" stroke-width="0.95" stroke-dasharray="7.45 3.73"/>
<text x="93.2" y="500.8" font-size="14" text-anchor="end" transform="rotate(-45 93.2 500.8)">BERT</text>
<text x="138.63" y="498.1" font-size="14" text-anchor="end" transform="rotate(-45 138.63 498.1)">Word2Vec</text>
<text x="179.26" y="499" font-size="14" text-anchor="end" transform="rotate(-45 179.26 499)">CLAP</text>
<text x="221.19" y="499" font-size="14" text-anchor="end" transform="rotate(-45 221.19 499)">CAE</text>
<text x="263.12" y="499" font-size="14" text-anchor="end" transform="rotate(-45 263.12 499)">Kell</text>
<text x="305.05" y="499" font-size="14" text-anchor="end" transform="rotate(-45 305.05 499)">catDNN</text>
<text x="346.98" y="499" font-size="14" text-anchor="end" transform="rotate(-45 346.98 499)">VGGish</text>
<text x="388.91" y="499" font-size="14" text-anchor="end" transform="rotate(-45 388.91 499)">PANNs_CNN14</text>
<text x="430.84" y="499" font-size="14" text-anchor="end" transform="rotate(-45 430.84 499)">Yamnet</text>
<text x="473.07" y="496.9" font-size="14" text-anchor="end" transform="rotate(-45 473.07 496.9)">semDNN_notrain</text>
<text x="515.9" y="497.9" font-size="14" text-anchor="end" transform="rotate(-45 515.9 497.9)">semDNN_unbal</text>
<text x="556.63" y="499" font-size="14" text-anchor="end" transform="rotate(-45 556.63 499)">semDNN_CLAP</text>
<text x="598.56" y="499" font-size="14" text-anchor="end" transform="rotate(-45 598.56 499)">semDNN_BERT</text>
<text x="640.49" y="499" font-size="14" text-anchor="end" transform="rotate(-45 640.49 499)">semDNN</text>
<text x="682.42" y="499" font-size="14" text-anchor="end" transform="rotate(-45 682.42 499)">Noise ceiling</text>
<g transform="translate(33.5 266.2) rotate(-90)"><text x="0" y="0" font-size="15.2">R</text><text x="11.3" y="-8" font-size="12.2">2</text><text x="11.3" y="7.4" font-size="12.2">cv</text></g>
<rect x="84.6" y="53.2" width="24.4" height="9" fill="#0535fa" stroke="#1a1a1a" stroke-width="0.8"/>
<text transform="translate(113.6 62) scale(1 1.12)" font-size="13.2" textLength="73" lengthAdjust="spacingAndGlyphs">Semantics</text>
<rect x="84.6" y="67.5" width="24.4" height="9" fill="#00ffff" stroke="#1a1a1a" stroke-width="0.8"/>
<text transform="translate(113.6 76.3) scale(1 1.12)" font-size="13.2" textLength="68" lengthAdjust="spacingAndGlyphs">Acoustics</text>
<rect x="84.6" y="81.8" width="24.4" height="9" fill="#7fff00" stroke="#1a1a1a" stroke-width="0.8"/>
<text transform="translate(113.6 90.6) scale(1 1.12)" font-size="13.2" textLength="65.5" lengthAdjust="spacingAndGlyphs">CatDNNs</text>
<rect x="84.6" y="96.1" width="24.4" height="9" fill="#ff1a00" stroke="#1a1a1a" stroke-width="0.8"/>
<text transform="translate(113.6 104.9) scale(1 1.12)" font-size="13.2" textLength="72.5" lengthAdjust="spacingAndGlyphs">SemDNNs</text>
<rect x="84.6" y="110.4" width="24.4" height="9" fill="#ffbb00" stroke="#1a1a1a" stroke-width="0.8"/>
<text transform="translate(113.6 119.2) scale(1 1.12)" font-size="13.2" textLength="90.5" lengthAdjust="spacingAndGlyphs">Noise Ceiling</text>
<text transform="translate(313.1 624) scale(1 1.0)" font-size="16.3" font-weight="bold" textLength="127" lengthAdjust="spacingAndGlyphs">Word Condition</text>
<line x1="70.4" y1="634.5" x2="673.5" y2="634.5" stroke="#555" stroke-width="1"/>
<line x1="70.4" y1="1012.5" x2="673.5" y2="1012.5" stroke="#888" stroke-width="1"/>
<line x1="673.5" y1="634.5" x2="673.5" y2="1012.5" stroke="#777" stroke-width="1"/>
<line x1="70.4" y1="634.5" x2="70.4" y2="1012.5" stroke="#c4c4c4" stroke-width="2"/>
<line x1="85.5" y1="936.2" x2="85.5" y2="964.3" stroke="#d4d4d4" stroke-width="0.84"/>
<path d="M72.5,945.3 C73.11,945.42 74.99,945.8 76.14,946.05 C77.29,946.3 78.42,946.51 79.39,946.8 C80.36,947.09 81.25,947.47 81.99,947.8 C82.73,948.13 83.33,948.47 83.81,948.8 C84.29,949.13 84.6,949.55 84.85,949.8 C85.1,950.05 85.22,950.22 85.3,950.3 L85.5,950.3 L85.5,945.3 Z" fill="#808080"/>
<line x1="127.4" y1="933" x2="127.4" y2="967.6" stroke="#d4d4d4" stroke-width="0.84"/>
<path d="M114.9,945.3 C115.48,945.42 117.3,945.8 118.4,946.05 C119.5,946.3 120.59,946.51 121.53,946.8 C122.46,947.09 123.32,947.47 124.03,947.8 C124.73,948.13 125.32,948.47 125.78,948.8 C126.23,949.13 126.54,949.55 126.78,949.8 C127.01,950.05 127.13,950.22 127.2,950.3 L127.4,950.3 L127.4,945.3 Z" fill="#808080"/>
<line x1="169.4" y1="941" x2="169.4" y2="968.4" stroke="#d4d4d4" stroke-width="0.84"/>
<path d="M156.7,945.3 C157.29,945.45 159.13,945.9 160.26,946.2 C161.38,946.5 162.48,946.75 163.43,947.1 C164.38,947.45 165.25,947.9 165.97,948.3 C166.69,948.7 167.28,949.1 167.75,949.5 C168.21,949.9 168.52,950.4 168.77,950.7 C169.01,951 169.13,951.2 169.2,951.3 L169.4,951.3 L169.4,945.3 Z" fill="#808080"/>
<line x1="211.3" y1="928" x2="211.3" y2="1006" stroke="#d4d4d4" stroke-width="0.84"/>
<path d="M211.13,937 C211.1,937.26 211.05,938.05 210.99,938.58 C210.93,939.11 210.86,939.63 210.77,940.16 C210.67,940.69 210.57,941.21 210.42,941.74 C210.28,942.27 210.12,942.79 209.91,943.32 C209.71,943.85 209.47,944.37 209.19,944.9 C208.91,945.43 208.58,945.95 208.21,946.48 C207.84,947.01 207.42,947.53 206.96,948.06 C206.5,948.59 205.99,949.11 205.45,949.64 C204.9,950.17 204.31,950.69 203.71,951.22 C203.11,951.75 202.46,952.27 201.84,952.8 C201.22,953.33 200.57,953.85 199.97,954.38 C199.38,954.91 198.78,955.43 198.27,955.96 C197.76,956.49 197.28,957.01 196.9,957.54 C196.52,958.07 196.21,958.59 196.01,959.12 C195.81,959.65 195.7,960.11 195.7,960.7 C195.7,961.29 195.81,962.01 196.01,962.66 C196.21,963.31 196.52,963.97 196.9,964.62 C197.28,965.27 197.76,965.93 198.27,966.58 C198.78,967.23 199.38,967.89 199.97,968.54 C200.57,969.19 201.22,969.85 201.84,970.5 C202.46,971.15 203.11,971.81 203.71,972.46 C204.31,973.11 204.9,973.77 205.45,974.42 C205.99,975.07 206.5,975.73 206.96,976.38 C207.42,977.03 207.84,977.69 208.21,978.34 C208.58,978.99 208.91,979.65 209.19,980.3 C209.47,980.95 209.71,981.61 209.91,982.26 C210.12,982.91 210.28,983.57 210.42,984.22 C210.57,984.87 210.67,985.53 210.77,986.18 C210.86,986.83 210.93,987.49 210.99,988.14 C211.05,988.79 211.1,989.77 211.13,990.1 L211.3,990.1 L211.3,937 Z" fill="#808080"/>
<line x1="253.5" y1="937.1" x2="253.5" y2="990" stroke="#d4d4d4" stroke-width="0.84"/>
<path d="M253.33,939 C253.3,939.14 253.25,939.57 253.19,939.86 C253.13,940.15 253.06,940.43 252.97,940.72 C252.87,941.01 252.77,941.29 252.62,941.58 C252.48,941.87 252.32,942.15 252.11,942.44 C251.91,942.73 251.67,943.01 251.39,943.3 C251.11,943.59 250.78,943.87 250.41,944.16 C250.04,944.45 249.62,944.73 249.16,945.02 C248.7,945.31 248.19,945.59 247.65,945.88 C247.1,946.17 246.51,946.45 245.91,946.74 C245.31,947.03 244.66,947.31 244.04,947.6 C243.42,947.89 242.77,948.17 242.17,948.46 C241.58,948.75 240.98,949.03 240.47,949.32 C239.96,949.61 239.48,949.89 239.1,950.18 C238.72,950.47 238.41,950.75 238.21,951.04 C238.01,951.33 237.9,951.52 237.9,951.9 C237.9,952.28 238.01,952.83 238.21,953.3 C238.41,953.77 238.72,954.23 239.1,954.7 C239.48,955.17 239.96,955.63 240.47,956.1 C240.98,956.57 241.58,957.03 242.17,957.5 C242.77,957.97 243.42,958.43 244.04,958.9 C244.66,959.37 245.31,959.83 245.91,960.3 C246.51,960.77 247.1,961.23 247.65,961.7 C248.19,962.17 248.7,962.63 249.16,963.1 C249.62,963.57 250.04,964.03 250.41,964.5 C250.78,964.97 251.11,965.43 251.39,965.9 C251.67,966.37 251.91,966.83 252.11,967.3 C252.32,967.77 252.48,968.23 252.62,968.7 C252.77,969.17 252.87,969.63 252.97,970.1 C253.06,970.57 253.13,971.03 253.19,971.5 C253.25,971.97 253.3,972.67 253.33,972.9 L253.5,972.9 L253.5,939 Z" fill="#808080"/>
<line x1="295.5" y1="930" x2="295.5" y2="1008" stroke="#d4d4d4" stroke-width="0.84"/>
<path d="M295.32,935.7 C295.3,935.99 295.25,936.85 295.18,937.42 C295.12,937.99 295.05,938.57 294.96,939.14 C294.86,939.71 294.75,940.29 294.61,940.86 C294.46,941.43 294.3,942.01 294.09,942.58 C293.88,943.15 293.64,943.73 293.35,944.3 C293.06,944.87 292.73,945.45 292.35,946.02 C291.98,946.59 291.55,947.17 291.08,947.74 C290.61,948.31 290.09,948.89 289.53,949.46 C288.98,950.03 288.37,950.61 287.76,951.18 C287.15,951.75 286.49,952.33 285.86,952.9 C285.22,953.47 284.56,954.05 283.95,954.62 C283.35,955.19 282.74,955.77 282.22,956.34 C281.7,956.91 281.21,957.49 280.82,958.06 C280.44,958.63 280.12,959.21 279.91,959.78 C279.71,960.35 279.6,960.84 279.6,961.5 C279.6,962.16 279.71,962.99 279.91,963.74 C280.12,964.49 280.44,965.23 280.82,965.98 C281.21,966.73 281.7,967.47 282.22,968.22 C282.74,968.97 283.35,969.71 283.95,970.46 C284.56,971.21 285.22,971.95 285.86,972.7 C286.49,973.45 287.15,974.19 287.76,974.94 C288.37,975.69 288.98,976.43 289.53,977.18 C290.09,977.93 290.61,978.67 291.08,979.42 C291.55,980.17 291.98,980.91 292.35,981.66 C292.73,982.41 293.06,983.15 293.35,983.9 C293.64,984.65 293.88,985.39 294.09,986.14 C294.3,986.89 294.46,987.63 294.61,988.38 C294.75,989.13 294.86,989.87 294.96,990.62 C295.05,991.37 295.12,992.11 295.18,992.86 C295.25,993.61 295.3,994.73 295.32,995.1 L295.5,995.1 L295.5,935.7 Z" fill="#808080"/>
<line x1="337.4" y1="932" x2="337.4" y2="993" stroke="#d4d4d4" stroke-width="0.84"/>
<path d="M337.23,938 C337.2,938.15 337.15,938.6 337.09,938.9 C337.03,939.2 336.96,939.5 336.87,939.8 C336.77,940.1 336.66,940.4 336.52,940.7 C336.38,941 336.21,941.3 336,941.6 C335.8,941.9 335.56,942.2 335.28,942.5 C334.99,942.8 334.67,943.1 334.29,943.4 C333.92,943.7 333.5,944 333.03,944.3 C332.57,944.6 332.05,944.9 331.51,945.2 C330.96,945.5 330.36,945.8 329.76,946.1 C329.15,946.4 328.5,946.7 327.88,947 C327.25,947.3 326.6,947.6 326,947.9 C325.4,948.2 324.8,948.5 324.29,948.8 C323.77,949.1 323.29,949.4 322.91,949.7 C322.53,950 322.21,950.3 322.01,950.6 C321.81,950.9 321.7,951.12 321.7,951.5 C321.7,951.88 321.81,952.43 322.01,952.9 C322.21,953.37 322.53,953.83 322.91,954.3 C323.29,954.77 323.77,955.23 324.29,955.7 C324.8,956.17 325.4,956.63 326,957.1 C326.6,957.57 327.25,958.03 327.88,958.5 C328.5,958.97 329.15,959.43 329.76,959.9 C330.36,960.37 330.96,960.83 331.51,961.3 C332.05,961.77 332.57,962.23 333.03,962.7 C333.5,963.17 333.92,963.63 334.29,964.1 C334.67,964.57 334.99,965.03 335.28,965.5 C335.56,965.97 335.8,966.43 336,966.9 C336.21,967.37 336.38,967.83 336.52,968.3 C336.66,968.77 336.77,969.23 336.87,969.7 C336.96,970.17 337.03,970.63 337.09,971.1 C337.15,971.57 337.2,972.27 337.23,972.5 L337.4,972.5 L337.4,938 Z" fill="#808080"/>
<line x1="379.5" y1="932" x2="379.5" y2="990" stroke="#d4d4d4" stroke-width="0.84"/>
<path d="M379.33,936.8 C379.3,936.95 379.25,937.4 379.19,937.7 C379.13,938 379.06,938.3 378.97,938.6 C378.87,938.9 378.76,939.2 378.62,939.5 C378.48,939.8 378.31,940.1 378.1,940.4 C377.9,940.7 377.66,941 377.38,941.3 C377.09,941.6 376.77,941.9 376.39,942.2 C376.02,942.5 375.6,942.8 375.13,943.1 C374.67,943.4 374.15,943.7 373.61,944 C373.06,944.3 372.46,944.6 371.86,944.9 C371.25,945.2 370.6,945.5 369.98,945.8 C369.35,946.1 368.7,946.4 368.1,946.7 C367.5,947 366.9,947.3 366.39,947.6 C365.87,947.9 365.39,948.2 365.01,948.5 C364.63,948.8 364.31,949.1 364.11,949.4 C363.91,949.7 363.8,949.91 363.8,950.3 C363.8,950.69 363.91,951.27 364.11,951.76 C364.31,952.25 364.63,952.73 365.01,953.22 C365.39,953.71 365.87,954.19 366.39,954.68 C366.9,955.17 367.5,955.65 368.1,956.14 C368.7,956.63 369.35,957.11 369.98,957.6 C370.6,958.09 371.25,958.57 371.86,959.06 C372.46,959.55 373.06,960.03 373.61,960.52 C374.15,961.01 374.67,961.49 375.13,961.98 C375.6,962.47 376.02,962.95 376.39,963.44 C376.77,963.93 377.09,964.41 377.38,964.9 C377.66,965.39 377.9,965.87 378.1,966.36 C378.31,966.85 378.48,967.33 378.62,967.82 C378.76,968.31 378.87,968.79 378.97,969.28 C379.06,969.77 379.13,970.25 379.19,970.74 C379.25,971.23 379.3,971.96 379.33,972.2 L379.5,972.2 L379.5,936.8 Z" fill="#808080"/>
<line x1="421.3" y1="930" x2="421.3" y2="1000" stroke="#d4d4d4" stroke-width="0.84"/>
<path d="M421.13,937.4 C421.11,937.62 421.06,938.29 421,938.74 C420.94,939.19 420.87,939.63 420.78,940.08 C420.69,940.53 420.59,940.97 420.45,941.42 C420.31,941.87 420.15,942.31 419.95,942.76 C419.75,943.21 419.52,943.65 419.24,944.1 C418.97,944.55 418.65,944.99 418.29,945.44 C417.93,945.89 417.52,946.33 417.07,946.78 C416.62,947.23 416.12,947.67 415.6,948.12 C415.07,948.57 414.49,949.01 413.9,949.46 C413.32,949.91 412.69,950.35 412.08,950.8 C411.47,951.25 410.84,951.69 410.26,952.14 C409.68,952.59 409.1,953.03 408.6,953.48 C408.1,953.93 407.64,954.37 407.27,954.82 C406.9,955.27 406.6,955.71 406.4,956.16 C406.21,956.61 406.1,956.99 406.1,957.5 C406.1,958.01 406.21,958.63 406.4,959.2 C406.6,959.77 406.9,960.33 407.27,960.9 C407.64,961.47 408.1,962.03 408.6,962.6 C409.1,963.17 409.68,963.73 410.26,964.3 C410.84,964.87 411.47,965.43 412.08,966 C412.69,966.57 413.32,967.13 413.9,967.7 C414.49,968.27 415.07,968.83 415.6,969.4 C416.12,969.97 416.62,970.53 417.07,971.1 C417.52,971.67 417.93,972.23 418.29,972.8 C418.65,973.37 418.97,973.93 419.24,974.5 C419.52,975.07 419.75,975.63 419.95,976.2 C420.15,976.77 420.31,977.33 420.45,977.9 C420.59,978.47 420.69,979.03 420.78,979.6 C420.87,980.17 420.94,980.73 421,981.3 C421.06,981.87 421.11,982.72 421.13,983 L421.3,983 L421.3,937.4 Z" fill="#808080"/>
<line x1="463.4" y1="936.5" x2="463.4" y2="1003" stroke="#d4d4d4" stroke-width="0.84"/>
<path d="M463.23,938.7 C463.21,938.9 463.15,939.5 463.1,939.9 C463.04,940.3 462.97,940.7 462.88,941.1 C462.79,941.5 462.68,941.9 462.54,942.3 C462.4,942.7 462.24,943.1 462.04,943.5 C461.84,943.9 461.61,944.3 461.33,944.7 C461.05,945.1 460.74,945.5 460.37,945.9 C460.01,946.3 459.6,946.7 459.15,947.1 C458.69,947.5 458.19,947.9 457.66,948.3 C457.13,948.7 456.54,949.1 455.95,949.5 C455.36,949.9 454.73,950.3 454.12,950.7 C453.51,951.1 452.87,951.5 452.29,951.9 C451.71,952.3 451.12,952.7 450.62,953.1 C450.12,953.5 449.65,953.9 449.28,954.3 C448.91,954.7 448.6,955.1 448.4,955.5 C448.21,955.9 448.1,956.18 448.1,956.7 C448.1,957.22 448.21,957.97 448.4,958.6 C448.6,959.23 448.91,959.87 449.28,960.5 C449.65,961.13 450.12,961.77 450.62,962.4 C451.12,963.03 451.71,963.67 452.29,964.3 C452.87,964.93 453.51,965.57 454.12,966.2 C454.73,966.83 455.36,967.47 455.95,968.1 C456.54,968.73 457.13,969.37 457.66,970 C458.19,970.63 458.69,971.27 459.15,971.9 C459.6,972.53 460.01,973.17 460.37,973.8 C460.74,974.43 461.05,975.07 461.33,975.7 C461.61,976.33 461.84,976.97 462.04,977.6 C462.24,978.23 462.4,978.87 462.54,979.5 C462.68,980.13 462.79,980.77 462.88,981.4 C462.97,982.03 463.04,982.67 463.1,983.3 C463.15,983.93 463.21,984.88 463.23,985.2 L463.4,985.2 L463.4,938.7 Z" fill="#808080"/>
<line x1="505.2" y1="932" x2="505.2" y2="1005" stroke="#d4d4d4" stroke-width="0.84"/>
<path d="M505.03,937.7 C505.01,937.92 504.96,938.58 504.9,939.02 C504.84,939.46 504.77,939.9 504.68,940.34 C504.59,940.78 504.49,941.22 504.35,941.66 C504.21,942.1 504.05,942.54 503.85,942.98 C503.65,943.42 503.42,943.86 503.14,944.3 C502.87,944.74 502.55,945.18 502.19,945.62 C501.83,946.06 501.42,946.5 500.97,946.94 C500.52,947.38 500.02,947.82 499.5,948.26 C498.97,948.7 498.39,949.14 497.8,949.58 C497.22,950.02 496.59,950.46 495.98,950.9 C495.37,951.34 494.74,951.78 494.16,952.22 C493.58,952.66 493,953.1 492.5,953.54 C492,953.98 491.54,954.42 491.17,954.86 C490.8,955.3 490.5,955.74 490.3,956.18 C490.11,956.62 490,957.01 490,957.5 C490,957.99 490.11,958.57 490.3,959.1 C490.5,959.63 490.8,960.17 491.17,960.7 C491.54,961.23 492,961.77 492.5,962.3 C493,962.83 493.58,963.37 494.16,963.9 C494.74,964.43 495.37,964.97 495.98,965.5 C496.59,966.03 497.22,966.57 497.8,967.1 C498.39,967.63 498.97,968.17 499.5,968.7 C500.02,969.23 500.52,969.77 500.97,970.3 C501.42,970.83 501.83,971.37 502.19,971.9 C502.55,972.43 502.87,972.97 503.14,973.5 C503.42,974.03 503.65,974.57 503.85,975.1 C504.05,975.63 504.21,976.17 504.35,976.7 C504.49,977.23 504.59,977.77 504.68,978.3 C504.77,978.83 504.84,979.37 504.9,979.9 C504.96,980.43 505.01,981.23 505.03,981.5 L505.2,981.5 L505.2,937.7 Z" fill="#808080"/>
<line x1="547.2" y1="932" x2="547.2" y2="1008" stroke="#d4d4d4" stroke-width="0.84"/>
<path d="M547.03,938.8 C547.01,939.04 546.95,939.77 546.89,940.26 C546.83,940.75 546.77,941.23 546.67,941.72 C546.58,942.21 546.47,942.69 546.33,943.18 C546.19,943.67 546.03,944.15 545.82,944.64 C545.62,945.13 545.38,945.61 545.1,946.1 C544.82,946.59 544.5,947.07 544.13,947.56 C543.76,948.05 543.35,948.53 542.89,949.02 C542.43,949.51 541.92,949.99 541.38,950.48 C540.84,950.97 540.25,951.45 539.66,951.94 C539.06,952.43 538.42,952.91 537.8,953.4 C537.18,953.89 536.54,954.37 535.94,954.86 C535.35,955.35 534.76,955.83 534.25,956.32 C533.74,956.81 533.27,957.29 532.89,957.78 C532.52,958.27 532.21,958.75 532.01,959.24 C531.81,959.73 531.7,960.12 531.7,960.7 C531.7,961.28 531.81,962.05 532.01,962.72 C532.21,963.39 532.52,964.07 532.89,964.74 C533.27,965.41 533.74,966.09 534.25,966.76 C534.76,967.43 535.35,968.11 535.94,968.78 C536.54,969.45 537.18,970.13 537.8,970.8 C538.42,971.47 539.06,972.15 539.66,972.82 C540.25,973.49 540.84,974.17 541.38,974.84 C541.92,975.51 542.43,976.19 542.89,976.86 C543.35,977.53 543.76,978.21 544.13,978.88 C544.5,979.55 544.82,980.23 545.1,980.9 C545.38,981.57 545.62,982.25 545.82,982.92 C546.03,983.59 546.19,984.27 546.33,984.94 C546.47,985.61 546.58,986.29 546.67,986.96 C546.77,987.63 546.83,988.31 546.89,988.98 C546.95,989.65 547.01,990.66 547.03,991 L547.2,991 L547.2,938.8 Z" fill="#808080"/>
<line x1="589.1" y1="932" x2="589.1" y2="1008" stroke="#d4d4d4" stroke-width="0.84"/>
<path d="M588.93,938.2 C588.91,938.45 588.86,939.2 588.8,939.7 C588.74,940.2 588.68,940.7 588.59,941.2 C588.49,941.7 588.39,942.2 588.25,942.7 C588.11,943.2 587.96,943.7 587.76,944.2 C587.56,944.7 587.33,945.2 587.06,945.7 C586.78,946.2 586.47,946.7 586.11,947.2 C585.75,947.7 585.35,948.2 584.9,948.7 C584.46,949.2 583.96,949.7 583.43,950.2 C582.91,950.7 582.33,951.2 581.75,951.7 C581.17,952.2 580.54,952.7 579.94,953.2 C579.34,953.7 578.71,954.2 578.14,954.7 C577.56,955.2 576.98,955.7 576.49,956.2 C575.99,956.7 575.53,957.2 575.16,957.7 C574.8,958.2 574.49,958.7 574.3,959.2 C574.11,959.7 574,960.12 574,960.7 C574,961.28 574.11,962.03 574.3,962.7 C574.49,963.37 574.8,964.03 575.16,964.7 C575.53,965.37 575.99,966.03 576.49,966.7 C576.98,967.37 577.56,968.03 578.14,968.7 C578.71,969.37 579.34,970.03 579.94,970.7 C580.54,971.37 581.17,972.03 581.75,972.7 C582.33,973.37 582.91,974.03 583.43,974.7 C583.96,975.37 584.46,976.03 584.9,976.7 C585.35,977.37 585.75,978.03 586.11,978.7 C586.47,979.37 586.78,980.03 587.06,980.7 C587.33,981.37 587.56,982.03 587.76,982.7 C587.96,983.37 588.11,984.03 588.25,984.7 C588.39,985.37 588.49,986.03 588.59,986.7 C588.68,987.37 588.74,988.03 588.8,988.7 C588.86,989.37 588.91,990.37 588.93,990.7 L589.1,990.7 L589.1,938.2 Z" fill="#808080"/>
<line x1="630.9" y1="932" x2="630.9" y2="1008" stroke="#d4d4d4" stroke-width="0.84"/>
<path d="M630.73,939 C630.71,939.26 630.66,940.04 630.6,940.56 C630.54,941.08 630.47,941.6 630.38,942.12 C630.29,942.64 630.19,943.16 630.05,943.68 C629.91,944.2 629.75,944.72 629.55,945.24 C629.35,945.76 629.12,946.28 628.84,946.8 C628.57,947.32 628.25,947.84 627.89,948.36 C627.53,948.88 627.12,949.4 626.67,949.92 C626.22,950.44 625.72,950.96 625.2,951.48 C624.67,952 624.09,952.52 623.5,953.04 C622.92,953.56 622.29,954.08 621.68,954.6 C621.07,955.12 620.44,955.64 619.86,956.16 C619.28,956.68 618.7,957.2 618.2,957.72 C617.7,958.24 617.24,958.76 616.87,959.28 C616.5,959.8 616.2,960.32 616,960.84 C615.81,961.36 615.7,961.83 615.7,962.4 C615.7,962.97 615.81,963.65 616,964.28 C616.2,964.91 616.5,965.53 616.87,966.16 C617.24,966.79 617.7,967.41 618.2,968.04 C618.7,968.67 619.28,969.29 619.86,969.92 C620.44,970.55 621.07,971.17 621.68,971.8 C622.29,972.43 622.92,973.05 623.5,973.68 C624.09,974.31 624.67,974.93 625.2,975.56 C625.72,976.19 626.22,976.81 626.67,977.44 C627.12,978.07 627.53,978.69 627.89,979.32 C628.25,979.95 628.57,980.57 628.84,981.2 C629.12,981.83 629.35,982.45 629.55,983.08 C629.75,983.71 629.91,984.33 630.05,984.96 C630.19,985.59 630.29,986.21 630.38,986.84 C630.47,987.47 630.54,988.09 630.6,988.72 C630.66,989.35 630.71,990.29 630.73,990.6 L630.9,990.6 L630.9,939 Z" fill="#808080"/>
<line x1="70.4" y1="945.3" x2="673.5" y2="945.3" stroke="#555" stroke-width="1.2"/>
<path d="M85.5,801 C85.98,801.6 87.47,803.4 88.4,804.6 C89.33,805.8 90.43,807 91.1,808.2 C91.77,809.4 91.88,810.75 92.4,811.8 C92.92,812.85 93.55,813.6 94.2,814.5 C94.85,815.4 95.7,816.15 96.3,817.2 C96.9,818.25 96.95,819.68 97.8,820.8 C98.65,821.92 101.7,822.87 101.4,823.9 C101.1,824.93 97.2,825.73 96,827 C94.8,828.27 95.02,830.15 94.2,831.5 C93.38,832.85 92.15,833.9 91.1,835.1 C90.05,836.3 88.73,837.35 87.9,838.7 C87.07,840.05 86.25,841.7 86.1,843.2 C85.95,844.7 87.02,846.2 87,847.7 C86.98,849.2 86.25,850.55 86,852.2 C85.75,853.85 85.58,856.7 85.5,857.6 Z" fill="#0000ff"/>
<line x1="85.5" y1="808.6" x2="85.5" y2="850.4" stroke="#000" stroke-opacity="0.85" stroke-width="1.2"/>
<g fill="none" stroke="#000" stroke-opacity="0.6" stroke-width="1.2"><rect x="75" y="817.2" width="21" height="14.2"/><line x1="75" y1="824.2" x2="96" y2="824.2"/><line x1="80.2" y1="808.6" x2="90.8" y2="808.6"/><line x1="80.2" y1="850.4" x2="90.8" y2="850.4"/></g>
<path d="M127.4,737 C127.57,737.83 128.02,740.42 128.4,742 C128.78,743.58 128.8,745 129.7,746.5 C130.6,748 132.37,749.5 133.8,751 C135.23,752.5 137.1,754.08 138.3,755.5 C139.5,756.92 141.3,758 141,759.5 C140.7,761 136.43,762.92 136.5,764.5 C136.57,766.08 140.23,767.73 141.4,769 C142.57,770.27 143.87,770.9 143.5,772.1 C143.13,773.3 140.97,774.93 139.2,776.2 C137.43,777.47 134.33,778.52 132.9,779.7 C131.47,780.88 131.13,782.1 130.6,783.3 C130.07,784.5 129.7,785.7 129.7,786.9 C129.7,788.1 130.6,789.3 130.6,790.5 C130.6,791.7 130.15,792.9 129.7,794.1 C129.25,795.3 128.28,796.5 127.9,797.7 C127.52,798.9 127.48,800.7 127.4,801.3 Z" fill="#0000ff"/>
<line x1="127.4" y1="745.4" x2="127.4" y2="793.1" stroke="#000" stroke-opacity="0.85" stroke-width="1.2"/>
<g fill="none" stroke="#000" stroke-opacity="0.6" stroke-width="1.2"><rect x="116.9" y="759.2" width="21" height="15.3"/><line x1="116.9" y1="768.7" x2="137.9" y2="768.7"/><line x1="122.1" y1="745.4" x2="132.7" y2="745.4"/><line x1="122.1" y1="793.1" x2="132.7" y2="793.1"/></g>
<path d="M169.4,836.1 C169.77,836.7 171.17,838.37 171.6,839.7 C172.03,841.03 171.87,842.7 172,844.1 C172.13,845.5 172.03,847.18 172.4,848.1 C172.77,849.02 173.42,848.93 174.2,849.6 C174.98,850.27 175.82,851.2 177.1,852.1 C178.38,853 180.57,854.15 181.9,855 C183.23,855.85 185.17,856.47 185.1,857.2 C185.03,857.93 182.77,858.55 181.5,859.4 C180.23,860.25 178.53,861.32 177.5,862.3 C176.47,863.28 175.85,864.32 175.3,865.3 C174.75,866.28 174.63,867.23 174.2,868.2 C173.77,869.17 173.25,870.02 172.7,871.1 C172.15,872.18 171.27,873.48 170.9,874.7 C170.53,875.92 170.75,876.75 170.5,878.4 C170.25,880.05 169.58,883.57 169.4,884.6 Z" fill="#0000ff"/>
<line x1="169.4" y1="841.4" x2="169.4" y2="874.4" stroke="#000" stroke-opacity="0.85" stroke-width="1.2"/>
<g fill="none" stroke="#000" stroke-opacity="0.6" stroke-width="1.2"><rect x="158.9" y="854.3" width="21" height="8.4"/><line x1="158.9" y1="858.1" x2="179.9" y2="858.1"/><line x1="164.1" y1="841.4" x2="174.7" y2="841.4"/><line x1="164.1" y1="874.4" x2="174.7" y2="874.4"/></g>
<path d="M211.3,895.8 C211.5,896.1 211.77,897.05 212.5,897.6 C213.23,898.15 214.2,898.62 215.7,899.1 C217.2,899.58 220.05,900.02 221.5,900.5 C222.95,900.98 223.62,901.47 224.4,902 C225.18,902.53 225.65,903.17 226.2,903.7 C226.75,904.23 227.8,904.67 227.7,905.2 C227.6,905.73 226.43,906.32 225.6,906.9 C224.77,907.48 223.57,908.12 222.7,908.7 C221.83,909.28 221.28,909.82 220.4,910.4 C219.52,910.98 218.28,911.62 217.4,912.2 C216.52,912.78 215.73,913.32 215.1,913.9 C214.47,914.48 213.6,915.12 213.6,915.7 C213.6,916.28 214.65,916.87 215.1,917.4 C215.55,917.93 216.45,918.35 216.3,918.9 C216.15,919.45 214.83,920.12 214.2,920.7 C213.57,921.28 212.98,921.77 212.5,922.4 C212.02,923.03 211.5,924.15 211.3,924.5 Z" fill="#00ffff"/>
<line x1="211.3" y1="899.2" x2="211.3" y2="919.3" stroke="#000" stroke-opacity="0.85" stroke-width="1.2"/>
<g fill="none" stroke="#000" stroke-opacity="0.6" stroke-width="1.2"><rect x="200.8" y="903.4" width="21" height="7"/><line x1="200.8" y1="906.5" x2="221.8" y2="906.5"/><line x1="206" y1="899.2" x2="216.6" y2="899.2"/><line x1="206" y1="919.3" x2="216.6" y2="919.3"/></g>
<path d="M253.5,894.4 C253.73,894.68 254.27,895.47 254.9,896.1 C255.53,896.73 256.47,897.52 257.3,898.2 C258.13,898.88 259.03,899.57 259.9,900.2 C260.77,900.83 261.72,901.42 262.5,902 C263.28,902.58 263.97,903.12 264.6,903.7 C265.23,904.28 265.77,904.92 266.3,905.5 C266.83,906.08 267.27,906.62 267.8,907.2 C268.33,907.78 269.98,908.52 269.5,909 C269.02,909.48 266.25,909.72 264.9,910.1 C263.55,910.48 262.28,910.85 261.4,911.3 C260.52,911.75 260.18,912.27 259.6,912.8 C259.02,913.33 258.68,913.97 257.9,914.5 C257.12,915.03 255.63,915.52 254.9,916 C254.17,916.48 253.73,917.17 253.5,917.4 Z" fill="#00ff00"/>
<line x1="253.5" y1="897.5" x2="253.5" y2="915" stroke="#000" stroke-opacity="0.85" stroke-width="1.2"/>
<g fill="none" stroke="#000" stroke-opacity="0.6" stroke-width="1.2"><rect x="243" y="903.3" width="21" height="6.1"/><line x1="243" y1="906.9" x2="264" y2="906.9"/><line x1="248.2" y1="897.5" x2="258.8" y2="897.5"/><line x1="248.2" y1="915" x2="258.8" y2="915"/></g>
<path d="M295.5,866.1 C295.83,866.38 296.58,867.27 297.5,867.8 C298.42,868.33 299.83,868.8 301,869.3 C302.17,869.8 303.43,870.27 304.5,870.8 C305.57,871.33 306.82,871.83 307.4,872.5 C307.98,873.17 307.8,874.02 308,874.8 C308.2,875.58 308.3,876.42 308.6,877.2 C308.9,877.98 309.27,878.72 309.8,879.5 C310.33,880.28 311.85,881.12 311.8,881.9 C311.75,882.68 310.42,883.43 309.5,884.2 C308.58,884.97 307.72,885.77 306.3,886.5 C304.88,887.23 302.22,888.02 301,888.6 C299.78,889.18 299.48,889.37 299,890 C298.52,890.63 298.45,891.62 298.1,892.4 C297.75,893.18 297.23,893.93 296.9,894.7 C296.57,895.47 296.33,896.12 296.1,897 C295.87,897.88 295.6,899.5 295.5,900 Z" fill="#00ff00"/>
<line x1="295.5" y1="870.8" x2="295.5" y2="895.2" stroke="#000" stroke-opacity="0.85" stroke-width="1.2"/>
<g fill="none" stroke="#000" stroke-opacity="0.6" stroke-width="1.2"><rect x="285" y="875.5" width="21" height="9.6"/><line x1="285" y1="880.7" x2="306" y2="880.7"/><line x1="290.2" y1="870.8" x2="300.8" y2="870.8"/><line x1="290.2" y1="895.2" x2="300.8" y2="895.2"/></g>
<path d="M337.5,880.1 C337.68,880.48 338.07,881.72 338.6,882.4 C339.13,883.08 339.77,883.72 340.7,884.2 C341.63,884.68 343.13,884.92 344.2,885.3 C345.27,885.68 346.13,886.1 347.1,886.5 C348.07,886.9 349.22,887.32 350,887.7 C350.78,888.08 351.6,888.37 351.8,888.8 C352,889.23 350.92,889.8 351.2,890.3 C351.48,890.8 353.6,891.32 353.5,891.8 C353.4,892.28 351.67,892.72 350.6,893.2 C349.53,893.68 348.17,894.22 347.1,894.7 C346.03,895.18 345.17,895.62 344.2,896.1 C343.23,896.58 342.18,897.05 341.3,897.6 C340.42,898.15 339.3,898.72 338.9,899.4 C338.5,900.08 338.95,900.93 338.9,901.7 C338.85,902.47 338.6,903.32 338.6,904 C338.6,904.68 339.08,905.17 338.9,905.8 C338.72,906.43 337.73,907.47 337.5,907.8 Z" fill="#00ff00"/>
<line x1="337.5" y1="882.3" x2="337.5" y2="897.5" stroke="#000" stroke-opacity="0.85" stroke-width="1.2"/>
<g fill="none" stroke="#000" stroke-opacity="0.6" stroke-width="1.2"><rect x="327" y="888.3" width="21" height="5.1"/><line x1="327" y1="891.5" x2="348" y2="891.5"/><line x1="332.2" y1="882.3" x2="342.8" y2="882.3"/><line x1="332.2" y1="897.5" x2="342.8" y2="897.5"/></g>
<path d="M379.5,863.5 C379.73,863.8 380.17,864.75 380.9,865.3 C381.63,865.85 382.97,866.27 383.9,866.8 C384.83,867.33 385.68,867.92 386.5,868.5 C387.32,869.08 388.27,869.67 388.8,870.3 C389.33,870.93 389.27,871.62 389.7,872.3 C390.13,872.98 391.3,873.67 391.4,874.4 C391.5,875.13 390.3,875.93 390.3,876.7 C390.3,877.47 390.82,878.27 391.4,879 C391.98,879.73 393.12,880.52 393.8,881.1 C394.48,881.68 395.7,881.97 395.5,882.5 C395.3,883.03 393.77,883.72 392.6,884.3 C391.43,884.88 389.77,885.42 388.5,886 C387.23,886.58 386.07,887.22 385,887.8 C383.93,888.38 382.87,888.87 382.1,889.5 C381.33,890.13 380.83,890.92 380.4,891.6 C379.97,892.28 379.65,893.27 379.5,893.6 Z" fill="#00ff00"/>
<line x1="379.5" y1="868.5" x2="379.5" y2="888.5" stroke="#000" stroke-opacity="0.85" stroke-width="1.2"/>
<g fill="none" stroke="#000" stroke-opacity="0.6" stroke-width="1.2"><rect x="369" y="873.8" width="21" height="9.6"/><line x1="369" y1="878.4" x2="390" y2="878.4"/><line x1="374.2" y1="868.5" x2="384.8" y2="868.5"/><line x1="374.2" y1="888.5" x2="384.8" y2="888.5"/></g>
<path d="M421.3,856.4 C421.52,856.83 422.08,858.18 422.6,859 C423.12,859.82 423.67,860.57 424.4,861.3 C425.13,862.03 425.98,862.77 427,863.4 C428.02,864.03 429.57,864.52 430.5,865.1 C431.43,865.68 432.35,866.27 432.6,866.9 C432.85,867.53 432.1,868.17 432,868.9 C431.9,869.63 431.57,870.57 432,871.3 C432.43,872.03 433.73,872.62 434.6,873.3 C435.47,873.98 437.1,874.77 437.2,875.4 C437.3,876.03 436.32,876.57 435.2,877.1 C434.08,877.63 431.87,878.12 430.5,878.6 C429.13,879.08 427.87,879.52 427,880 C426.13,880.48 425.48,880.92 425.3,881.5 C425.12,882.08 425.95,882.77 425.9,883.5 C425.85,884.23 425.3,885.22 425,885.9 C424.7,886.58 424.53,886.92 424.1,887.6 C423.67,888.28 422.87,889.12 422.4,890 C421.93,890.88 421.48,892.42 421.3,892.9 Z" fill="#00ff00"/>
<line x1="421.3" y1="861.1" x2="421.3" y2="888.7" stroke="#000" stroke-opacity="0.85" stroke-width="1.2"/>
<g fill="none" stroke="#000" stroke-opacity="0.6" stroke-width="1.2"><rect x="410.8" y="868.8" width="21" height="8.4"/><line x1="410.8" y1="873.6" x2="431.8" y2="873.6"/><line x1="416" y1="861.1" x2="426.6" y2="861.1"/><line x1="416" y1="888.7" x2="426.6" y2="888.7"/></g>
<path d="M463,910.2 C463.55,910.5 464.53,911.33 466.3,912 C468.07,912.67 472.15,913.58 473.6,914.2 C475.05,914.82 474.15,915.03 475,915.7 C475.85,916.37 478.45,917.53 478.7,918.2 C478.95,918.87 476.75,919.15 476.5,919.7 C476.25,920.25 478.42,921.02 477.2,921.5 C475.98,921.98 471.15,922.17 469.2,922.6 C467.25,923.03 465.8,923.48 465.5,924.1 C465.2,924.72 467.03,925.57 467.4,926.3 C467.77,927.03 467.77,927.77 467.7,928.5 C467.63,929.23 467.7,930.1 467,930.7 C466.3,931.3 463.87,931.68 463.5,932.1 C463.13,932.52 464.58,932.83 464.8,933.2 C465.02,933.57 465.1,933.75 464.8,934.3 C464.5,934.85 463.3,936.13 463,936.5 Z" fill="#dd0000"/>
<line x1="463" y1="912.6" x2="463" y2="928.1" stroke="#000" stroke-opacity="0.85" stroke-width="1.2"/>
<g fill="none" stroke="#000" stroke-opacity="0.6" stroke-width="1.2"><rect x="452.5" y="917.2" width="21" height="5.1"/><line x1="452.5" y1="919.1" x2="473.5" y2="919.1"/><line x1="457.7" y1="912.6" x2="468.3" y2="912.6"/><line x1="457.7" y1="928.1" x2="468.3" y2="928.1"/></g>
<path d="M505.2,846.4 C505.58,846.7 506.63,847.62 507.5,848.2 C508.37,848.78 509.42,849.32 510.4,849.9 C511.38,850.48 512.52,851.12 513.4,851.7 C514.28,852.28 514.88,852.82 515.7,853.4 C516.52,853.98 517.47,854.52 518.3,855.2 C519.13,855.88 520.45,856.72 520.7,857.5 C520.95,858.28 520.25,859.12 519.8,859.9 C519.35,860.68 518.4,861.43 518,862.2 C517.6,862.97 517.63,863.72 517.4,864.5 C517.17,865.28 517.08,866.12 516.6,866.9 C516.12,867.68 515.33,868.43 514.5,869.2 C513.67,869.97 512.57,870.72 511.6,871.5 C510.63,872.28 509.53,873.12 508.7,873.9 C507.87,874.68 507.03,875.43 506.6,876.2 C506.17,876.97 506.27,877.72 506.1,878.5 C505.93,879.28 505.75,880.22 505.6,880.9 C505.45,881.58 505.27,882.32 505.2,882.6 Z" fill="#dd0000"/>
<line x1="505.2" y1="849.3" x2="505.2" y2="879.1" stroke="#000" stroke-opacity="0.85" stroke-width="1.2"/>
<g fill="none" stroke="#000" stroke-opacity="0.6" stroke-width="1.2"><rect x="494.7" y="856.9" width="21" height="9.5"/><line x1="494.7" y1="861.5" x2="515.7" y2="861.5"/><line x1="499.9" y1="849.3" x2="510.5" y2="849.3"/><line x1="499.9" y1="879.1" x2="510.5" y2="879.1"/></g>
<path d="M547.2,838.2 C547.43,838.43 548.27,839.02 548.6,839.6 C548.93,840.18 549.1,840.97 549.2,841.7 C549.3,842.43 548.85,843.37 549.2,844 C549.55,844.63 550.52,844.97 551.3,845.5 C552.08,846.03 553.13,846.57 553.9,847.2 C554.67,847.83 555.22,848.57 555.9,849.3 C556.58,850.03 557.22,850.83 558,851.6 C558.78,852.37 559.8,853.07 560.6,853.9 C561.4,854.73 562.9,855.72 562.8,856.6 C562.7,857.48 560.75,858.33 560,859.2 C559.25,860.07 559.07,860.97 558.3,861.8 C557.53,862.63 556.38,863.42 555.4,864.2 C554.42,864.98 553.33,865.73 552.4,866.5 C551.47,867.27 550.47,868.07 549.8,868.8 C549.13,869.53 548.75,870.17 548.4,870.9 C548.05,871.63 547.9,872.43 547.7,873.2 C547.5,873.97 547.28,875.12 547.2,875.5 Z" fill="#dd0000"/>
<line x1="547.2" y1="841.1" x2="547.2" y2="872" stroke="#000" stroke-opacity="0.85" stroke-width="1.2"/>
<g fill="none" stroke="#000" stroke-opacity="0.6" stroke-width="1.2"><rect x="536.7" y="851.7" width="21" height="10.1"/><line x1="536.7" y1="857.3" x2="557.7" y2="857.3"/><line x1="541.9" y1="841.1" x2="552.5" y2="841.1"/><line x1="541.9" y1="872" x2="552.5" y2="872"/></g>
<path d="M589.1,837.6 C589.5,837.85 590.62,838.57 591.5,839.1 C592.38,839.63 593.23,840.27 594.4,840.8 C595.57,841.33 597.37,841.77 598.5,842.3 C599.63,842.83 601,843.37 601.2,844 C601.4,844.63 599.85,845.47 599.7,846.1 C599.55,846.73 599.82,847.17 600.3,847.8 C600.78,848.43 602.17,849.17 602.6,849.9 C603.03,850.63 602.7,851.43 602.9,852.2 C603.1,852.97 603.45,853.72 603.8,854.5 C604.15,855.28 605.1,856.12 605,856.9 C604.9,857.68 604.28,858.53 603.2,859.2 C602.12,859.87 599.97,860.37 598.5,860.9 C597.03,861.43 595.57,861.85 594.4,862.4 C593.23,862.95 592.22,863.57 591.5,864.2 C590.78,864.83 590.33,865.48 590.1,866.2 C589.87,866.92 590.05,867.72 590.1,868.5 C590.15,869.28 590.45,870.12 590.4,870.9 C590.35,871.68 590.02,872.52 589.8,873.2 C589.58,873.88 589.22,874.7 589.1,875 Z" fill="#dd0000"/>
<line x1="589.1" y1="841.4" x2="589.1" y2="870.4" stroke="#000" stroke-opacity="0.85" stroke-width="1.2"/>
<g fill="none" stroke="#000" stroke-opacity="0.6" stroke-width="1.2"><rect x="578.6" y="846.8" width="21" height="11.7"/><line x1="578.6" y1="852.5" x2="599.6" y2="852.5"/><line x1="583.8" y1="841.4" x2="594.4" y2="841.4"/><line x1="583.8" y1="870.4" x2="594.4" y2="870.4"/></g>
<path d="M631.3,815.8 C631.48,816.1 631.93,817.02 632.4,817.6 C632.87,818.18 633.33,818.72 634.1,819.3 C634.87,819.88 636.12,820.52 637,821.1 C637.88,821.68 638.77,822.17 639.4,822.8 C640.03,823.43 640.32,824.22 640.8,824.9 C641.28,825.58 641.57,826.27 642.3,826.9 C643.03,827.53 644.47,828.12 645.2,828.7 C645.93,829.28 646.7,829.77 646.7,830.4 C646.7,831.03 645.6,831.82 645.2,832.5 C644.8,833.18 644.3,833.77 644.3,834.5 C644.3,835.23 645.05,836.12 645.2,836.9 C645.35,837.68 645.5,838.43 645.2,839.2 C644.9,839.97 644.18,840.72 643.4,841.5 C642.62,842.28 641.57,843.12 640.5,843.9 C639.43,844.68 637.77,845.52 637,846.2 C636.23,846.88 636.28,847.32 635.9,848 C635.52,848.68 635.2,849.53 634.7,850.3 C634.2,851.07 633.43,851.82 632.9,852.6 C632.37,853.38 631.77,854.32 631.5,855 C631.23,855.68 631.33,856.42 631.3,856.7 Z" fill="#dd0000"/>
<line x1="631.3" y1="820.4" x2="631.3" y2="851.5" stroke="#000" stroke-opacity="0.85" stroke-width="1.2"/>
<g fill="none" stroke="#000" stroke-opacity="0.6" stroke-width="1.2"><rect x="620.8" y="828.6" width="21" height="11.8"/><line x1="620.8" y1="834.8" x2="641.8" y2="834.8"/><line x1="626" y1="820.4" x2="636.6" y2="820.4"/><line x1="626" y1="851.5" x2="636.6" y2="851.5"/></g>
<line x1="85.5" y1="634.5" x2="85.5" y2="640.5" stroke="#555" stroke-width="1"/>
<line x1="85.5" y1="1012.5" x2="85.5" y2="1006.5" stroke="#777" stroke-width="1"/>
<line x1="127.49" y1="634.5" x2="127.49" y2="640.5" stroke="#555" stroke-width="1"/>
<line x1="127.49" y1="1012.5" x2="127.49" y2="1006.5" stroke="#777" stroke-width="1"/>
<line x1="169.48" y1="634.5" x2="169.48" y2="640.5" stroke="#555" stroke-width="1"/>
<line x1="169.48" y1="1012.5" x2="169.48" y2="1006.5" stroke="#777" stroke-width="1"/>
<line x1="211.47" y1="634.5" x2="211.47" y2="640.5" stroke="#555" stroke-width="1"/>
<line x1="211.47" y1="1012.5" x2="211.47" y2="1006.5" stroke="#777" stroke-width="1"/>
<line x1="253.46" y1="634.5" x2="253.46" y2="640.5" stroke="#555" stroke-width="1"/>
<line x1="253.46" y1="1012.5" x2="253.46" y2="1006.5" stroke="#777" stroke-width="1"/>
<line x1="295.45" y1="634.5" x2="295.45" y2="640.5" stroke="#555" stroke-width="1"/>
<line x1="295.45" y1="1012.5" x2="295.45" y2="1006.5" stroke="#777" stroke-width="1"/>
<line x1="337.44" y1="634.5" x2="337.44" y2="640.5" stroke="#555" stroke-width="1"/>
<line x1="337.44" y1="1012.5" x2="337.44" y2="1006.5" stroke="#777" stroke-width="1"/>
<line x1="379.43" y1="634.5" x2="379.43" y2="640.5" stroke="#555" stroke-width="1"/>
<line x1="379.43" y1="1012.5" x2="379.43" y2="1006.5" stroke="#777" stroke-width="1"/>
<line x1="421.42" y1="634.5" x2="421.42" y2="640.5" stroke="#555" stroke-width="1"/>
<line x1="421.42" y1="1012.5" x2="421.42" y2="1006.5" stroke="#777" stroke-width="1"/>
<line x1="463.41" y1="634.5" x2="463.41" y2="640.5" stroke="#555" stroke-width="1"/>
<line x1="463.41" y1="1012.5" x2="463.41" y2="1006.5" stroke="#777" stroke-width="1"/>
<line x1="505.4" y1="634.5" x2="505.4" y2="640.5" stroke="#555" stroke-width="1"/>
<line x1="505.4" y1="1012.5" x2="505.4" y2="1006.5" stroke="#777" stroke-width="1"/>
<line x1="547.39" y1="634.5" x2="547.39" y2="640.5" stroke="#555" stroke-width="1"/>
<line x1="547.39" y1="1012.5" x2="547.39" y2="1006.5" stroke="#777" stroke-width="1"/>
<line x1="589.38" y1="634.5" x2="589.38" y2="640.5" stroke="#555" stroke-width="1"/>
<line x1="589.38" y1="1012.5" x2="589.38" y2="1006.5" stroke="#777" stroke-width="1"/>
<line x1="631.37" y1="634.5" x2="631.37" y2="640.5" stroke="#555" stroke-width="1"/>
<line x1="631.37" y1="1012.5" x2="631.37" y2="1006.5" stroke="#777" stroke-width="1"/>
<line x1="673.36" y1="634.5" x2="673.36" y2="640.5" stroke="#555" stroke-width="1"/>
<line x1="673.36" y1="1012.5" x2="673.36" y2="1006.5" stroke="#777" stroke-width="1"/>
<line x1="70.4" y1="991.6" x2="76.4" y2="991.6" stroke="#999" stroke-width="1"/>
<line x1="673.5" y1="991.6" x2="667.5" y2="991.6" stroke="#555" stroke-width="1"/>
<text transform="translate(64.3 998.5) scale(1 1.0)" font-size="16.5" text-anchor="end">-0.1</text>
<line x1="70.4" y1="945.3" x2="76.4" y2="945.3" stroke="#999" stroke-width="1"/>
<line x1="673.5" y1="945.3" x2="667.5" y2="945.3" stroke="#555" stroke-width="1"/>
<text transform="translate(64.3 952.2) scale(1 1.0)" font-size="16.5" text-anchor="end">0</text>
<line x1="70.4" y1="899" x2="76.4" y2="899" stroke="#999" stroke-width="1"/>
<line x1="673.5" y1="899" x2="667.5" y2="899" stroke="#555" stroke-width="1"/>
<text transform="translate(64.3 905.9) scale(1 1.0)" font-size="16.5" text-anchor="end">0.1</text>
<line x1="70.4" y1="852.7" x2="76.4" y2="852.7" stroke="#999" stroke-width="1"/>
<line x1="673.5" y1="852.7" x2="667.5" y2="852.7" stroke="#555" stroke-width="1"/>
<text transform="translate(64.3 859.6) scale(1 1.0)" font-size="16.5" text-anchor="end">0.2</text>
<line x1="70.4" y1="806.4" x2="76.4" y2="806.4" stroke="#999" stroke-width="1"/>
<line x1="673.5" y1="806.4" x2="667.5" y2="806.4" stroke="#555" stroke-width="1"/>
<text transform="translate(64.3 813.3) scale(1 1.0)" font-size="16.5" text-anchor="end">0.3</text>
<line x1="70.4" y1="760.1" x2="76.4" y2="760.1" stroke="#999" stroke-width="1"/>
<line x1="673.5" y1="760.1" x2="667.5" y2="760.1" stroke="#555" stroke-width="1"/>
<text transform="translate(64.3 767) scale(1 1.0)" font-size="16.5" text-anchor="end">0.4</text>
<line x1="70.4" y1="713.8" x2="76.4" y2="713.8" stroke="#999" stroke-width="1"/>
<line x1="673.5" y1="713.8" x2="667.5" y2="713.8" stroke="#555" stroke-width="1"/>
<text transform="translate(64.3 720.7) scale(1 1.0)" font-size="16.5" text-anchor="end">0.5</text>
<line x1="70.4" y1="667.5" x2="76.4" y2="667.5" stroke="#999" stroke-width="1"/>
<line x1="673.5" y1="667.5" x2="667.5" y2="667.5" stroke="#555" stroke-width="1"/>
<text transform="translate(64.3 674.4) scale(1 1.0)" font-size="16.5" text-anchor="end">0.6</text>
<path d="M673.5,634.4 C673.32,634.93 672.82,636.58 672.4,637.6 C671.98,638.62 671.87,639.53 671,640.5 C670.13,641.47 668.72,642.42 667.2,643.4 C665.68,644.38 663.8,645.42 661.9,646.4 C660,647.38 657.25,648.33 655.8,649.3 C654.35,650.27 653.53,651.23 653.2,652.2 C652.87,653.17 653.47,654.13 653.8,655.1 C654.13,656.07 654.87,656.93 655.2,658 C655.53,659.07 655.75,660.33 655.8,661.5 C655.85,662.67 655.8,663.83 655.5,665 C655.2,666.17 654.53,667.33 654,668.5 C653.47,669.67 652.58,670.83 652.3,672 C652.02,673.17 651.87,674.42 652.3,675.5 C652.73,676.58 653.68,677.52 654.9,678.5 C656.12,679.48 658.13,680.43 659.6,681.4 C661.07,682.37 662.5,683.4 663.7,684.3 C664.9,685.2 665.92,685.98 666.8,686.8 C667.68,687.62 668.3,687.83 669,689.2 C669.7,690.57 670.43,692.57 671,695 C671.57,697.43 671.98,701.27 672.4,703.8 C672.82,706.33 673.32,709.13 673.5,710.2 Z" fill="#ffbb00"/>
<line x1="69.3" y1="666.4813999999999" x2="673.5" y2="666.4813999999999" stroke="#6a6a6a" stroke-width="1.14" stroke-dasharray="8.8 4.6"/>
<text x="95.3" y="1032" font-size="16.8" text-anchor="end" transform="rotate(-45 95.3 1032)">BERT</text>
<text x="140.89" y="1029.5" font-size="16.8" text-anchor="end" transform="rotate(-45 140.89 1029.5)">Word2Vec</text>
<text x="181.28" y="1030.5" font-size="16.8" text-anchor="end" transform="rotate(-45 181.28 1030.5)">CLAP</text>
<text x="223.27" y="1030.5" font-size="16.8" text-anchor="end" transform="rotate(-45 223.27 1030.5)">CAE</text>
<text x="265.26" y="1030.5" font-size="16.8" text-anchor="end" transform="rotate(-45 265.26 1030.5)">Kell</text>
<text x="307.25" y="1030.5" font-size="16.8" text-anchor="end" transform="rotate(-45 307.25 1030.5)">catDNN</text>
<text x="349.24" y="1030.5" font-size="16.8" text-anchor="end" transform="rotate(-45 349.24 1030.5)">VGGish</text>
<text x="391.23" y="1030.5" font-size="16.8" text-anchor="end" transform="rotate(-45 391.23 1030.5)">PANNs_CNN14</text>
<text x="433.22" y="1030.5" font-size="16.8" text-anchor="end" transform="rotate(-45 433.22 1030.5)">Yamnet</text>
<text x="481.71" y="1024.5" font-size="16.8" text-anchor="end" transform="rotate(-45 481.71 1024.5)">semDNN_notrain</text>
<text x="524.2" y="1025" font-size="16.8" text-anchor="end" transform="rotate(-45 524.2 1025)">semDNN_unbal</text>
<text x="559.19" y="1030.5" font-size="16.8" text-anchor="end" transform="rotate(-45 559.19 1030.5)">semDNN_CLAP</text>
<text x="601.18" y="1030.5" font-size="16.8" text-anchor="end" transform="rotate(-45 601.18 1030.5)">semDNN_BERT</text>
<text x="643.17" y="1030.5" font-size="16.8" text-anchor="end" transform="rotate(-45 643.17 1030.5)">semDNN</text>
<text x="685.16" y="1030.5" font-size="16.8" text-anchor="end" transform="rotate(-45 685.16 1030.5)">Noise ceiling</text>
<g transform="translate(20 838.2) rotate(-90)"><text x="0" y="0" font-size="19.2">R</text><text x="13.2" y="-10.3" font-size="15.5">2</text><text x="13.2" y="8.4" font-size="15.3">cv</text></g>
<rect x="81.4" y="672.3" width="20.4" height="7.7" fill="#0535fa" stroke="#1a1a1a" stroke-width="0.8"/>
<text transform="translate(106.0 680.3) scale(1 1.0)" font-size="11.8" textLength="60.5" lengthAdjust="spacingAndGlyphs">Semantics</text>
<rect x="81.4" y="684" width="20.4" height="7.7" fill="#00ffff" stroke="#1a1a1a" stroke-width="0.8"/>
<text transform="translate(106.0 692) scale(1 1.0)" font-size="11.8" textLength="56" lengthAdjust="spacingAndGlyphs">Acoustics</text>
<rect x="81.4" y="695.7" width="20.4" height="7.7" fill="#7fff00" stroke="#1a1a1a" stroke-width="0.8"/>
<text transform="translate(106.0 703.7) scale(1 1.0)" font-size="11.8" textLength="54" lengthAdjust="spacingAndGlyphs">CatDNNs</text>
<rect x="81.4" y="707.4" width="20.4" height="7.7" fill="#ff1a00" stroke="#1a1a1a" stroke-width="0.8"/>
<text transform="translate(106.0 715.4) scale(1 1.0)" font-size="11.8" textLength="60" lengthAdjust="spacingAndGlyphs">SemDNNs</text>
<rect x="81.4" y="719.1" width="20.4" height="7.7" fill="#ffbb00" stroke="#1a1a1a" stroke-width="0.8"/>
<text transform="translate(106.0 727.1) scale(1 1.0)" font-size="11.8" textLength="75.5" lengthAdjust="spacingAndGlyphs">Noise Ceiling</text>
</svg>
</body></html>
